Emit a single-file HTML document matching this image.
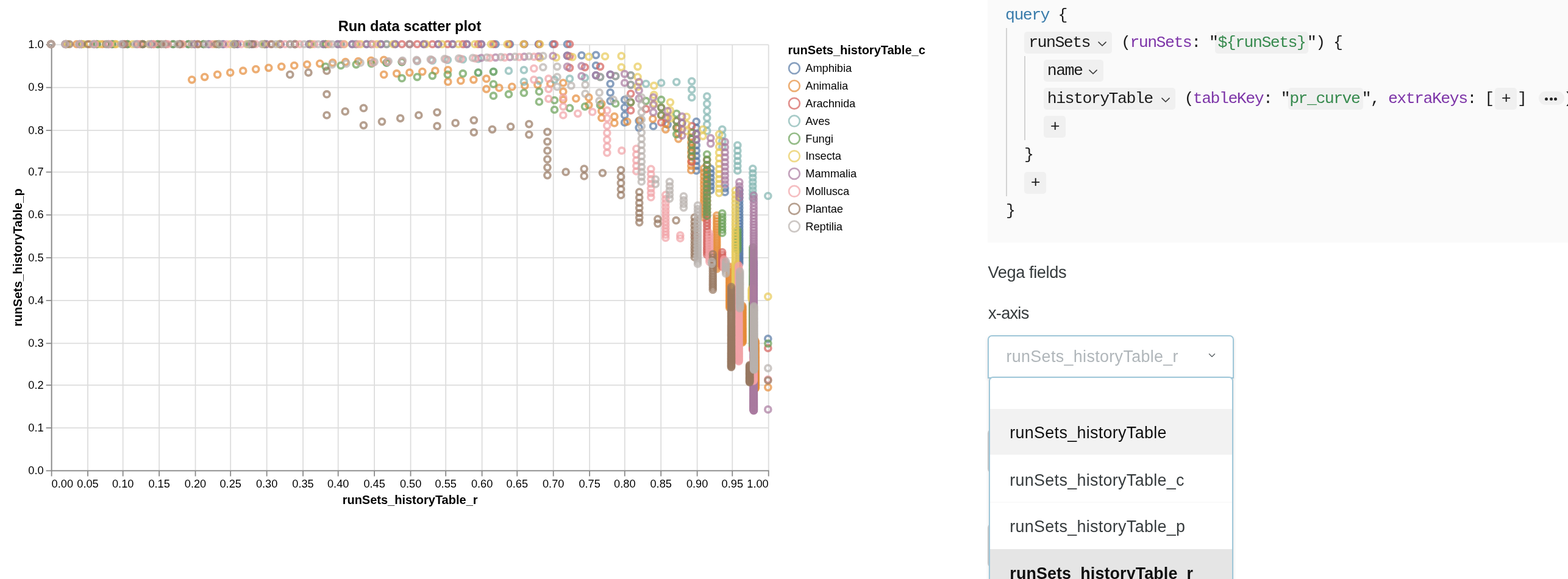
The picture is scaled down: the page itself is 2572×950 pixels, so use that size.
<!DOCTYPE html>
<html lang="en"><head><meta charset="utf-8"><title>Run data scatter plot</title>
<style>
html,body{margin:0;padding:0;background:#fff;width:2572px;height:950px;}
#page{width:2572px;height:950px;overflow:hidden;position:relative;background:#fff;font-family:"Liberation Sans",Arial,sans-serif;color:#363b3d;}
.chart{position:absolute;left:0;top:0;}
.code{position:absolute;left:1620px;top:0;width:952px;height:398px;background:#fafafa;overflow:hidden;
  font-family:"Liberation Mono","DejaVu Sans Mono",monospace;font-size:26.5px;letter-spacing:-1.5px;color:#1a1a1a;white-space:pre;}
.code span,.code i,.code em{position:absolute;height:36px;line-height:36px;font-style:normal;}
.code b{font-weight:normal;}
.code i{top:0;}
.code em{top:0;width:16px;}
.code .bx{position:absolute;background:#f0f0f0;border-radius:5px;z-index:1;}
.code>span{z-index:2;}
.code .kw{color:#3a7cab;}
.code .arg{color:#7d35a8;}
.code .str{color:#378a4e;}
.code .vl{position:absolute;width:2px;background:#d3d3d3;}
.code .chev{position:absolute;left:0;top:14.5px;}
.code .pill{position:absolute;width:42px;height:22px;border-radius:11px;background:#f0f0f0;}
.code .pill u{position:absolute;top:9.5px;width:5px;height:5px;border-radius:2.5px;background:#222;text-decoration:none;}
.code .pill u:nth-child(1){left:10px}.code .pill u:nth-child(2){left:17.7px}.code .pill u:nth-child(3){left:25.4px}
.lbl{position:absolute;font-size:27.2px;line-height:30px;white-space:nowrap;color:#363b3d;}
.under{position:absolute;left:1620px;width:60px;height:67.5px;border:2px solid #cfcfd0;border-radius:7px;background:#fff;}
.dd{position:absolute;left:1620px;top:549.7px;width:400px;height:67px;border:2px solid #9fc7d9;border-radius:7px 7px 0 0;background:#fff;box-shadow:0 2px 5px rgba(34,36,38,.15);}
.dd .txt{position:absolute;left:28.5px;top:15px;font-size:26.8px;letter-spacing:.38px;line-height:36px;color:#b0b6ba;white-space:nowrap;}
.dd .ddchev{position:absolute;left:360px;top:27.5px;}
.menu{position:absolute;left:1622px;top:617.7px;width:397px;height:340px;border:2px solid #9fc7d9;border-radius:7px 7px 0 0;background:#fff;box-shadow:0 2px 5px rgba(34,36,38,.15);overflow:hidden;}
.menu .it{position:absolute;left:0;width:398px;font-size:26.8px;letter-spacing:.36px;white-space:nowrap;color:#363b3d;}
.menu .it span{position:absolute;left:32.3px;line-height:36px;}
.menu .hov{background:#f2f2f2;color:#0e0e0e;}
.menu .sep{border-top:2px solid #fafafa;box-sizing:border-box;}
.menu .sel{background:#e5e5e5;color:#0e0e0e;font-weight:bold;letter-spacing:.16px;}

</style></head>
<body>
<div id="page">
<svg class="chart" width="1600" height="950" viewBox="0 0 1600 950">
<g font-family="Liberation Sans, Arial, Helvetica, sans-serif">
<path d="M84.60 73.40V772.40M144.04 73.40V772.40M201.67 73.40V772.40M261.11 73.40V772.40M320.54 73.40V772.40M378.18 73.40V772.40M437.61 73.40V772.40M497.05 73.40V772.40M554.68 73.40V772.40M614.12 73.40V772.40M673.55 73.40V772.40M731.19 73.40V772.40M790.62 73.40V772.40M848.26 73.40V772.40M907.69 73.40V772.40M967.13 73.40V772.40M1024.76 73.40V772.40M1084.20 73.40V772.40M1143.63 73.40V772.40M1201.27 73.40V772.40M1260.70 73.40V772.40M84.60 772.40H1260.70M84.60 702.14H1260.70M84.60 631.88H1260.70M84.60 563.42H1260.70M84.60 493.16H1260.70M84.60 422.90H1260.70M84.60 352.64H1260.70M84.60 282.38H1260.70M84.60 213.92H1260.70M84.60 143.66H1260.70M84.60 73.40H1260.70" stroke="#ddd" stroke-width="1.8" fill="none"/>
<path d="M84.60 772.40v9M144.04 772.40v9M201.67 772.40v9M261.11 772.40v9M320.54 772.40v9M378.18 772.40v9M437.61 772.40v9M497.05 772.40v9M554.68 772.40v9M614.12 772.40v9M673.55 772.40v9M731.19 772.40v9M790.62 772.40v9M848.26 772.40v9M907.69 772.40v9M967.13 772.40v9M1024.76 772.40v9M1084.20 772.40v9M1143.63 772.40v9M1201.27 772.40v9M1260.70 772.40v9M84.60 772.40h-9M84.60 702.14h-9M84.60 631.88h-9M84.60 563.42h-9M84.60 493.16h-9M84.60 422.90h-9M84.60 352.64h-9M84.60 282.38h-9M84.60 213.92h-9M84.60 143.66h-9M84.60 73.40h-9M84.60 72.50V773.30M83.70 772.40H1261.60" stroke="#888" stroke-width="1.8" fill="none"/>
<g font-size="18.2" fill="#000">
<text x="84.6" y="800" text-anchor="start">0.00</text>
<text x="144.0" y="800" text-anchor="middle">0.05</text>
<text x="201.7" y="800" text-anchor="middle">0.10</text>
<text x="261.1" y="800" text-anchor="middle">0.15</text>
<text x="320.5" y="800" text-anchor="middle">0.20</text>
<text x="378.2" y="800" text-anchor="middle">0.25</text>
<text x="437.6" y="800" text-anchor="middle">0.30</text>
<text x="497.0" y="800" text-anchor="middle">0.35</text>
<text x="554.7" y="800" text-anchor="middle">0.40</text>
<text x="614.1" y="800" text-anchor="middle">0.45</text>
<text x="673.6" y="800" text-anchor="middle">0.50</text>
<text x="731.2" y="800" text-anchor="middle">0.55</text>
<text x="790.6" y="800" text-anchor="middle">0.60</text>
<text x="848.3" y="800" text-anchor="middle">0.65</text>
<text x="907.7" y="800" text-anchor="middle">0.70</text>
<text x="967.1" y="800" text-anchor="middle">0.75</text>
<text x="1024.8" y="800" text-anchor="middle">0.80</text>
<text x="1084.2" y="800" text-anchor="middle">0.85</text>
<text x="1143.6" y="800" text-anchor="middle">0.90</text>
<text x="1201.3" y="800" text-anchor="middle">0.95</text>
<text x="1260.7" y="800" text-anchor="end">1.00</text>
<text x="71.6" y="778.1" text-anchor="end">0.0</text>
<text x="71.6" y="707.8" text-anchor="end">0.1</text>
<text x="71.6" y="637.6" text-anchor="end">0.2</text>
<text x="71.6" y="569.1" text-anchor="end">0.3</text>
<text x="71.6" y="498.9" text-anchor="end">0.4</text>
<text x="71.6" y="428.6" text-anchor="end">0.5</text>
<text x="71.6" y="358.3" text-anchor="end">0.6</text>
<text x="71.6" y="288.1" text-anchor="end">0.7</text>
<text x="71.6" y="219.6" text-anchor="end">0.8</text>
<text x="71.6" y="149.4" text-anchor="end">0.9</text>
<text x="71.6" y="79.1" text-anchor="end">1.0</text>
</g>
<text x="672" y="51.2" text-anchor="middle" font-size="23.6" font-weight="bold">Run data scatter plot</text>
<text x="672.6" y="826.5" text-anchor="middle" font-size="20" font-weight="bold">runSets_historyTable_r</text>
<text transform="translate(35.6 422.5) rotate(-90)" text-anchor="middle" font-size="20" font-weight="bold">runSets_historyTable_p</text>
<g fill="none" stroke-width="3.8" stroke-opacity="0.7">
<g stroke="#5677a4"><circle cx="83.7" cy="72.5" r="4.95"/><circle cx="107.2" cy="72.5" r="4.95"/><circle cx="130.7" cy="72.5" r="4.95"/><circle cx="154.3" cy="72.5" r="4.95"/><circle cx="177.8" cy="72.5" r="4.95"/><circle cx="201.3" cy="72.5" r="4.95"/><circle cx="224.8" cy="72.5" r="4.95"/><circle cx="248.4" cy="72.5" r="4.95"/><circle cx="271.9" cy="72.5" r="4.95"/><circle cx="295.4" cy="72.5" r="4.95"/><circle cx="318.9" cy="72.5" r="4.95"/><circle cx="342.4" cy="72.5" r="4.95"/><circle cx="366.0" cy="72.5" r="4.95"/><circle cx="389.5" cy="72.5" r="4.95"/><circle cx="413.0" cy="72.5" r="4.95"/><circle cx="436.5" cy="72.5" r="4.95"/><circle cx="460.1" cy="72.5" r="4.95"/><circle cx="483.6" cy="72.5" r="4.95"/><circle cx="507.1" cy="72.5" r="4.95"/><circle cx="530.6" cy="72.5" r="4.95"/><circle cx="554.1" cy="72.5" r="4.95"/><circle cx="577.7" cy="72.5" r="4.95"/><circle cx="601.2" cy="72.5" r="4.95"/><circle cx="624.7" cy="72.5" r="4.95"/><circle cx="648.2" cy="72.5" r="4.95"/><circle cx="671.8" cy="72.5" r="4.95"/><circle cx="695.3" cy="72.5" r="4.95"/><circle cx="718.8" cy="72.5" r="4.95"/><circle cx="742.3" cy="72.5" r="4.95"/><circle cx="765.8" cy="72.5" r="4.95"/><circle cx="789.4" cy="72.5" r="4.95"/><circle cx="812.9" cy="72.5" r="4.95"/><circle cx="836.4" cy="72.5" r="4.95"/><circle cx="859.9" cy="72.5" r="4.95"/><circle cx="883.4" cy="72.5" r="4.95"/><circle cx="907.0" cy="72.5" r="4.95"/><circle cx="930.5" cy="72.5" r="4.95"/><circle cx="930.5" cy="91.4" r="4.95"/><circle cx="954.0" cy="90.9" r="4.95"/><circle cx="977.5" cy="90.4" r="4.95"/><circle cx="977.5" cy="107.5" r="4.95"/><circle cx="977.5" cy="123.6" r="4.95"/><circle cx="1001.1" cy="122.4" r="4.95"/><circle cx="1001.1" cy="137.5" r="4.95"/><circle cx="1001.1" cy="151.9" r="4.95"/><circle cx="1001.1" cy="165.7" r="4.95"/><circle cx="1024.6" cy="163.7" r="4.95"/><circle cx="1024.6" cy="176.6" r="4.95"/><circle cx="1024.6" cy="189.0" r="4.95"/><circle cx="1024.6" cy="200.9" r="4.95"/><circle cx="1048.1" cy="198.3" r="4.95"/><circle cx="1048.1" cy="209.6" r="4.95"/><circle cx="1071.6" cy="206.9" r="4.95"/><circle cx="1095.1" cy="204.4" r="4.95"/><circle cx="1118.7" cy="201.9" r="4.95"/><circle cx="1142.2" cy="199.6" r="4.95"/><circle cx="1142.2" cy="209.8" r="4.95"/><circle cx="1142.2" cy="219.7" r="4.95"/><circle cx="1142.2" cy="229.2" r="4.95"/><circle cx="1142.2" cy="238.4" r="4.95"/><circle cx="1142.2" cy="247.2" r="4.95"/><circle cx="1142.2" cy="255.8" r="4.95"/><circle cx="1142.2" cy="264.2" r="4.95"/><circle cx="1142.2" cy="272.2" r="4.95"/><circle cx="1142.2" cy="280.0" r="4.95"/><circle cx="1165.7" cy="276.8" r="4.95"/><circle cx="1165.7" cy="284.3" r="4.95"/><circle cx="1165.7" cy="291.6" r="4.95"/><circle cx="1165.7" cy="298.6" r="4.95"/><circle cx="1165.7" cy="305.5" r="4.95"/><circle cx="1165.7" cy="312.2" r="4.95"/><circle cx="1189.2" cy="308.8" r="4.95"/><circle cx="1189.2" cy="315.2" r="4.95"/><circle cx="1212.8" cy="311.9" r="4.95"/><circle cx="1212.8" cy="318.1" r="4.95"/><circle cx="1212.8" cy="324.1" r="4.95"/><circle cx="1212.8" cy="330.0" r="4.95"/><circle cx="1212.8" cy="335.8" r="4.95"/><circle cx="1212.8" cy="341.3" r="4.95"/><circle cx="1212.8" cy="346.8" r="4.95"/><circle cx="1212.8" cy="352.1" r="4.95"/><circle cx="1212.8" cy="357.3" r="4.95"/><circle cx="1212.8" cy="362.3" r="4.95"/><circle cx="1212.8" cy="367.3" r="4.95"/><circle cx="1212.8" cy="372.1" r="4.95"/><circle cx="1212.8" cy="376.8" r="4.95"/><circle cx="1212.8" cy="381.4" r="4.95"/><circle cx="1212.8" cy="385.8" r="4.95"/><circle cx="1212.8" cy="390.2" r="4.95"/><circle cx="1212.8" cy="394.5" r="4.95"/><circle cx="1212.8" cy="398.7" r="4.95"/><circle cx="1212.8" cy="402.8" r="4.95"/><circle cx="1212.8" cy="406.8" r="4.95"/><circle cx="1212.8" cy="410.7" r="4.95"/><circle cx="1212.8" cy="414.6" r="4.95"/><circle cx="1212.8" cy="418.3" r="4.95"/><circle cx="1212.8" cy="422.0" r="4.95"/><circle cx="1212.8" cy="425.6" r="4.95"/><circle cx="1212.8" cy="429.1" r="4.95"/><circle cx="1212.8" cy="432.6" r="4.95"/><circle cx="1236.3" cy="429.0" r="4.95"/><circle cx="1236.3" cy="432.4" r="4.95"/><circle cx="1236.3" cy="435.7" r="4.95"/><circle cx="1236.3" cy="439.0" r="4.95"/><circle cx="1236.3" cy="442.2" r="4.95"/><circle cx="1236.3" cy="445.3" r="4.95"/><circle cx="1236.3" cy="448.4" r="4.95"/><circle cx="1236.3" cy="451.4" r="4.95"/><circle cx="1236.3" cy="454.4" r="4.95"/><circle cx="1236.3" cy="457.3" r="4.95"/><circle cx="1236.3" cy="460.1" r="4.95"/><circle cx="1236.3" cy="462.9" r="4.95"/><circle cx="1236.3" cy="465.7" r="4.95"/><circle cx="1236.3" cy="468.4" r="4.95"/><circle cx="1236.3" cy="471.1" r="4.95"/><circle cx="1236.3" cy="473.7" r="4.95"/><circle cx="1236.3" cy="476.2" r="4.95"/><circle cx="1236.3" cy="478.8" r="4.95"/><circle cx="1236.3" cy="481.2" r="4.95"/><circle cx="1236.3" cy="483.7" r="4.95"/><circle cx="1236.3" cy="486.1" r="4.95"/><circle cx="1236.3" cy="488.4" r="4.95"/><circle cx="1236.3" cy="490.8" r="4.95"/><circle cx="1236.3" cy="493.0" r="4.95"/><circle cx="1236.3" cy="495.3" r="4.95"/><circle cx="1236.3" cy="497.5" r="4.95"/><circle cx="1236.3" cy="499.7" r="4.95"/><circle cx="1236.3" cy="501.8" r="4.95"/><circle cx="1236.3" cy="503.9" r="4.95"/><circle cx="1236.3" cy="506.0" r="4.95"/><circle cx="1236.3" cy="508.0" r="4.95"/><circle cx="1236.3" cy="510.0" r="4.95"/><circle cx="1236.3" cy="512.0" r="4.95"/><circle cx="1236.3" cy="514.0" r="4.95"/><circle cx="1236.3" cy="515.9" r="4.95"/><circle cx="1236.3" cy="517.8" r="4.95"/><circle cx="1236.3" cy="519.7" r="4.95"/><circle cx="1236.3" cy="521.5" r="4.95"/><circle cx="1236.3" cy="523.3" r="4.95"/><circle cx="1236.3" cy="525.1" r="4.95"/><circle cx="1236.3" cy="526.9" r="4.95"/><circle cx="1236.3" cy="528.6" r="4.95"/><circle cx="1236.3" cy="530.3" r="4.95"/><circle cx="1236.3" cy="532.0" r="4.95"/><circle cx="1236.3" cy="533.6" r="4.95"/><circle cx="1236.3" cy="535.3" r="4.95"/><circle cx="1236.3" cy="536.9" r="4.95"/><circle cx="1236.3" cy="538.5" r="4.95"/><circle cx="1236.3" cy="540.1" r="4.95"/><circle cx="1236.3" cy="541.6" r="4.95"/><circle cx="1236.3" cy="543.2" r="4.95"/><circle cx="1236.3" cy="544.7" r="4.95"/><circle cx="1236.3" cy="546.2" r="4.95"/><circle cx="1236.3" cy="547.6" r="4.95"/><circle cx="1236.3" cy="549.1" r="4.95"/><circle cx="1236.3" cy="550.5" r="4.95"/><circle cx="1236.3" cy="551.9" r="4.95"/><circle cx="1236.3" cy="553.3" r="4.95"/><circle cx="1236.3" cy="554.7" r="4.95"/><circle cx="1236.3" cy="556.1" r="4.95"/><circle cx="1236.3" cy="557.4" r="4.95"/><circle cx="1236.3" cy="558.8" r="4.95"/><circle cx="1259.8" cy="555.8" r="4.95"/></g>
<g stroke="#e68b39"><circle cx="83.7" cy="72.5" r="4.95"/><circle cx="125.7" cy="72.5" r="4.95"/><circle cx="146.7" cy="72.5" r="4.95"/><circle cx="167.7" cy="72.5" r="4.95"/><circle cx="188.7" cy="72.5" r="4.95"/><circle cx="209.7" cy="72.5" r="4.95"/><circle cx="230.7" cy="72.5" r="4.95"/><circle cx="251.7" cy="72.5" r="4.95"/><circle cx="272.7" cy="72.5" r="4.95"/><circle cx="293.7" cy="72.5" r="4.95"/><circle cx="314.7" cy="72.5" r="4.95"/><circle cx="314.7" cy="130.8" r="4.95"/><circle cx="335.7" cy="126.3" r="4.95"/><circle cx="356.7" cy="122.4" r="4.95"/><circle cx="377.7" cy="119.1" r="4.95"/><circle cx="398.7" cy="116.2" r="4.95"/><circle cx="419.7" cy="113.6" r="4.95"/><circle cx="440.7" cy="111.3" r="4.95"/><circle cx="461.7" cy="109.3" r="4.95"/><circle cx="482.7" cy="107.5" r="4.95"/><circle cx="503.7" cy="105.8" r="4.95"/><circle cx="524.7" cy="104.3" r="4.95"/><circle cx="545.7" cy="102.9" r="4.95"/><circle cx="566.7" cy="101.6" r="4.95"/><circle cx="587.7" cy="100.5" r="4.95"/><circle cx="608.7" cy="99.4" r="4.95"/><circle cx="629.7" cy="98.4" r="4.95"/><circle cx="629.7" cy="122.4" r="4.95"/><circle cx="650.7" cy="120.7" r="4.95"/><circle cx="671.8" cy="119.1" r="4.95"/><circle cx="692.8" cy="117.6" r="4.95"/><circle cx="713.8" cy="116.2" r="4.95"/><circle cx="734.8" cy="114.9" r="4.95"/><circle cx="734.8" cy="134.2" r="4.95"/><circle cx="755.8" cy="132.4" r="4.95"/><circle cx="776.8" cy="130.8" r="4.95"/><circle cx="797.8" cy="129.2" r="4.95"/><circle cx="797.8" cy="146.1" r="4.95"/><circle cx="818.8" cy="144.2" r="4.95"/><circle cx="839.8" cy="142.4" r="4.95"/><circle cx="860.8" cy="140.7" r="4.95"/><circle cx="881.8" cy="139.1" r="4.95"/><circle cx="902.8" cy="137.5" r="4.95"/><circle cx="923.8" cy="136.0" r="4.95"/><circle cx="923.8" cy="150.2" r="4.95"/><circle cx="923.8" cy="163.7" r="4.95"/><circle cx="944.8" cy="161.7" r="4.95"/><circle cx="965.8" cy="159.9" r="4.95"/><circle cx="965.8" cy="172.4" r="4.95"/><circle cx="986.8" cy="170.4" r="4.95"/><circle cx="986.8" cy="182.1" r="4.95"/><circle cx="986.8" cy="193.5" r="4.95"/><circle cx="1007.8" cy="191.2" r="4.95"/><circle cx="1007.8" cy="201.9" r="4.95"/><circle cx="1028.8" cy="199.6" r="4.95"/><circle cx="1049.8" cy="197.3" r="4.95"/><circle cx="1070.8" cy="195.1" r="4.95"/><circle cx="1091.8" cy="193.0" r="4.95"/><circle cx="1091.8" cy="202.8" r="4.95"/><circle cx="1091.8" cy="212.3" r="4.95"/><circle cx="1112.8" cy="210.0" r="4.95"/><circle cx="1112.8" cy="219.1" r="4.95"/><circle cx="1112.8" cy="227.8" r="4.95"/><circle cx="1133.8" cy="225.4" r="4.95"/><circle cx="1133.8" cy="233.8" r="4.95"/><circle cx="1133.8" cy="242.0" r="4.95"/><circle cx="1133.8" cy="249.9" r="4.95"/><circle cx="1133.8" cy="257.5" r="4.95"/><circle cx="1133.8" cy="265.0" r="4.95"/><circle cx="1133.8" cy="272.2" r="4.95"/><circle cx="1133.8" cy="279.2" r="4.95"/><circle cx="1154.8" cy="276.4" r="4.95"/><circle cx="1154.8" cy="283.2" r="4.95"/><circle cx="1154.8" cy="289.8" r="4.95"/><circle cx="1154.8" cy="296.2" r="4.95"/><circle cx="1154.8" cy="302.4" r="4.95"/><circle cx="1154.8" cy="308.5" r="4.95"/><circle cx="1154.8" cy="314.5" r="4.95"/><circle cx="1154.8" cy="320.2" r="4.95"/><circle cx="1154.8" cy="325.9" r="4.95"/><circle cx="1154.8" cy="331.4" r="4.95"/><circle cx="1154.8" cy="336.8" r="4.95"/><circle cx="1154.8" cy="342.0" r="4.95"/><circle cx="1154.8" cy="347.1" r="4.95"/><circle cx="1154.8" cy="352.1" r="4.95"/><circle cx="1154.8" cy="357.0" r="4.95"/><circle cx="1175.8" cy="353.7" r="4.95"/><circle cx="1175.8" cy="358.5" r="4.95"/><circle cx="1175.8" cy="363.1" r="4.95"/><circle cx="1175.8" cy="367.6" r="4.95"/><circle cx="1175.8" cy="372.1" r="4.95"/><circle cx="1175.8" cy="376.4" r="4.95"/><circle cx="1175.8" cy="380.7" r="4.95"/><circle cx="1175.8" cy="384.8" r="4.95"/><circle cx="1175.8" cy="388.9" r="4.95"/><circle cx="1175.8" cy="392.9" r="4.95"/><circle cx="1175.8" cy="396.8" r="4.95"/><circle cx="1175.8" cy="400.6" r="4.95"/><circle cx="1175.8" cy="404.3" r="4.95"/><circle cx="1175.8" cy="408.0" r="4.95"/><circle cx="1175.8" cy="411.6" r="4.95"/><circle cx="1175.8" cy="415.1" r="4.95"/><circle cx="1175.8" cy="418.6" r="4.95"/><circle cx="1175.8" cy="422.0" r="4.95"/><circle cx="1175.8" cy="425.3" r="4.95"/><circle cx="1175.8" cy="428.6" r="4.95"/><circle cx="1175.8" cy="431.8" r="4.95"/><circle cx="1175.8" cy="434.9" r="4.95"/><circle cx="1175.8" cy="438.0" r="4.95"/><circle cx="1175.8" cy="441.1" r="4.95"/><circle cx="1196.8" cy="437.7" r="4.95"/><circle cx="1196.8" cy="440.7" r="4.95"/><circle cx="1196.8" cy="443.7" r="4.95"/><circle cx="1196.8" cy="446.5" r="4.95"/><circle cx="1196.8" cy="449.4" r="4.95"/><circle cx="1196.8" cy="452.1" r="4.95"/><circle cx="1196.8" cy="454.9" r="4.95"/><circle cx="1196.8" cy="457.5" r="4.95"/><circle cx="1196.8" cy="460.2" r="4.95"/><circle cx="1196.8" cy="462.8" r="4.95"/><circle cx="1196.8" cy="465.3" r="4.95"/><circle cx="1196.8" cy="467.8" r="4.95"/><circle cx="1196.8" cy="470.3" r="4.95"/><circle cx="1196.8" cy="472.7" r="4.95"/><circle cx="1196.8" cy="475.1" r="4.95"/><circle cx="1196.8" cy="477.5" r="4.95"/><circle cx="1196.8" cy="479.8" r="4.95"/><circle cx="1196.8" cy="482.1" r="4.95"/><circle cx="1196.8" cy="484.3" r="4.95"/><circle cx="1196.8" cy="486.5" r="4.95"/><circle cx="1196.8" cy="488.7" r="4.95"/><circle cx="1196.8" cy="490.8" r="4.95"/><circle cx="1196.8" cy="493.0" r="4.95"/><circle cx="1196.8" cy="495.0" r="4.95"/><circle cx="1196.8" cy="497.1" r="4.95"/><circle cx="1196.8" cy="499.1" r="4.95"/><circle cx="1196.8" cy="501.1" r="4.95"/><circle cx="1196.8" cy="503.0" r="4.95"/><circle cx="1196.8" cy="505.0" r="4.95"/><circle cx="1217.8" cy="501.9" r="4.95"/><circle cx="1217.8" cy="503.8" r="4.95"/><circle cx="1217.8" cy="505.7" r="4.95"/><circle cx="1217.8" cy="507.5" r="4.95"/><circle cx="1217.8" cy="509.4" r="4.95"/><circle cx="1217.8" cy="511.2" r="4.95"/><circle cx="1217.8" cy="513.0" r="4.95"/><circle cx="1217.8" cy="514.7" r="4.95"/><circle cx="1217.8" cy="516.5" r="4.95"/><circle cx="1217.8" cy="518.2" r="4.95"/><circle cx="1217.8" cy="519.9" r="4.95"/><circle cx="1217.8" cy="521.5" r="4.95"/><circle cx="1217.8" cy="523.2" r="4.95"/><circle cx="1217.8" cy="524.8" r="4.95"/><circle cx="1217.8" cy="526.4" r="4.95"/><circle cx="1217.8" cy="528.0" r="4.95"/><circle cx="1217.8" cy="529.5" r="4.95"/><circle cx="1217.8" cy="531.1" r="4.95"/><circle cx="1217.8" cy="532.6" r="4.95"/><circle cx="1217.8" cy="534.1" r="4.95"/><circle cx="1217.8" cy="535.6" r="4.95"/><circle cx="1217.8" cy="537.1" r="4.95"/><circle cx="1217.8" cy="538.5" r="4.95"/><circle cx="1217.8" cy="539.9" r="4.95"/><circle cx="1217.8" cy="541.3" r="4.95"/><circle cx="1217.8" cy="542.7" r="4.95"/><circle cx="1217.8" cy="544.1" r="4.95"/><circle cx="1217.8" cy="545.5" r="4.95"/><circle cx="1217.8" cy="546.8" r="4.95"/><circle cx="1217.8" cy="548.2" r="4.95"/><circle cx="1217.8" cy="549.5" r="4.95"/><circle cx="1217.8" cy="550.8" r="4.95"/><circle cx="1217.8" cy="552.0" r="4.95"/><circle cx="1217.8" cy="553.3" r="4.95"/><circle cx="1217.8" cy="554.6" r="4.95"/><circle cx="1217.8" cy="555.8" r="4.95"/><circle cx="1217.8" cy="557.0" r="4.95"/><circle cx="1217.8" cy="558.2" r="4.95"/><circle cx="1217.8" cy="559.4" r="4.95"/><circle cx="1217.8" cy="560.6" r="4.95"/><circle cx="1217.8" cy="561.8" r="4.95"/><circle cx="1238.8" cy="559.1" r="4.95"/><circle cx="1238.8" cy="560.3" r="4.95"/><circle cx="1238.8" cy="561.4" r="4.95"/><circle cx="1238.8" cy="562.6" r="4.95"/><circle cx="1238.8" cy="563.7" r="4.95"/><circle cx="1238.8" cy="564.8" r="4.95"/><circle cx="1238.8" cy="565.9" r="4.95"/><circle cx="1238.8" cy="567.0" r="4.95"/><circle cx="1238.8" cy="568.1" r="4.95"/><circle cx="1238.8" cy="569.2" r="4.95"/><circle cx="1238.8" cy="570.2" r="4.95"/><circle cx="1238.8" cy="571.3" r="4.95"/><circle cx="1238.8" cy="572.3" r="4.95"/><circle cx="1238.8" cy="573.3" r="4.95"/><circle cx="1238.8" cy="574.3" r="4.95"/><circle cx="1238.8" cy="575.4" r="4.95"/><circle cx="1238.8" cy="576.3" r="4.95"/><circle cx="1238.8" cy="577.3" r="4.95"/><circle cx="1238.8" cy="578.3" r="4.95"/><circle cx="1238.8" cy="579.3" r="4.95"/><circle cx="1238.8" cy="580.2" r="4.95"/><circle cx="1238.8" cy="581.2" r="4.95"/><circle cx="1238.8" cy="582.1" r="4.95"/><circle cx="1238.8" cy="583.0" r="4.95"/><circle cx="1238.8" cy="584.0" r="4.95"/><circle cx="1238.8" cy="584.9" r="4.95"/><circle cx="1238.8" cy="585.8" r="4.95"/><circle cx="1238.8" cy="586.7" r="4.95"/><circle cx="1238.8" cy="587.6" r="4.95"/><circle cx="1238.8" cy="588.4" r="4.95"/><circle cx="1238.8" cy="589.3" r="4.95"/><circle cx="1238.8" cy="590.2" r="4.95"/><circle cx="1238.8" cy="591.0" r="4.95"/><circle cx="1238.8" cy="591.9" r="4.95"/><circle cx="1238.8" cy="592.7" r="4.95"/><circle cx="1238.8" cy="593.5" r="4.95"/><circle cx="1238.8" cy="594.3" r="4.95"/><circle cx="1238.8" cy="595.1" r="4.95"/><circle cx="1238.8" cy="596.0" r="4.95"/><circle cx="1238.8" cy="596.8" r="4.95"/><circle cx="1238.8" cy="597.5" r="4.95"/><circle cx="1238.8" cy="598.3" r="4.95"/><circle cx="1238.8" cy="599.1" r="4.95"/><circle cx="1238.8" cy="599.9" r="4.95"/><circle cx="1238.8" cy="600.6" r="4.95"/><circle cx="1238.8" cy="601.4" r="4.95"/><circle cx="1238.8" cy="602.1" r="4.95"/><circle cx="1238.8" cy="602.9" r="4.95"/><circle cx="1238.8" cy="603.6" r="4.95"/><circle cx="1238.8" cy="604.3" r="4.95"/><circle cx="1238.8" cy="605.1" r="4.95"/><circle cx="1238.8" cy="605.8" r="4.95"/><circle cx="1238.8" cy="606.5" r="4.95"/><circle cx="1238.8" cy="607.2" r="4.95"/><circle cx="1238.8" cy="607.9" r="4.95"/><circle cx="1238.8" cy="608.6" r="4.95"/><circle cx="1238.8" cy="609.3" r="4.95"/><circle cx="1238.8" cy="610.0" r="4.95"/><circle cx="1238.8" cy="610.6" r="4.95"/><circle cx="1238.8" cy="611.3" r="4.95"/><circle cx="1238.8" cy="612.0" r="4.95"/><circle cx="1238.8" cy="612.6" r="4.95"/><circle cx="1238.8" cy="613.3" r="4.95"/><circle cx="1238.8" cy="613.9" r="4.95"/><circle cx="1238.8" cy="614.6" r="4.95"/><circle cx="1238.8" cy="615.2" r="4.95"/><circle cx="1238.8" cy="615.9" r="4.95"/><circle cx="1238.8" cy="616.5" r="4.95"/><circle cx="1238.8" cy="617.1" r="4.95"/><circle cx="1238.8" cy="617.7" r="4.95"/><circle cx="1238.8" cy="618.3" r="4.95"/><circle cx="1238.8" cy="618.9" r="4.95"/><circle cx="1238.8" cy="619.5" r="4.95"/><circle cx="1238.8" cy="620.1" r="4.95"/><circle cx="1238.8" cy="620.7" r="4.95"/><circle cx="1238.8" cy="621.3" r="4.95"/><circle cx="1238.8" cy="621.9" r="4.95"/><circle cx="1238.8" cy="622.5" r="4.95"/><circle cx="1238.8" cy="623.1" r="4.95"/><circle cx="1238.8" cy="623.6" r="4.95"/><circle cx="1238.8" cy="624.2" r="4.95"/><circle cx="1238.8" cy="624.8" r="4.95"/><circle cx="1238.8" cy="625.3" r="4.95"/><circle cx="1238.8" cy="625.9" r="4.95"/><circle cx="1238.8" cy="626.4" r="4.95"/><circle cx="1238.8" cy="627.0" r="4.95"/><circle cx="1238.8" cy="627.5" r="4.95"/><circle cx="1238.8" cy="628.0" r="4.95"/><circle cx="1238.8" cy="628.6" r="4.95"/><circle cx="1238.8" cy="629.1" r="4.95"/><circle cx="1238.8" cy="629.6" r="4.95"/><circle cx="1238.8" cy="630.2" r="4.95"/><circle cx="1238.8" cy="630.7" r="4.95"/><circle cx="1238.8" cy="631.2" r="4.95"/><circle cx="1238.8" cy="631.7" r="4.95"/><circle cx="1238.8" cy="632.2" r="4.95"/><circle cx="1238.8" cy="632.7" r="4.95"/><circle cx="1238.8" cy="633.2" r="4.95"/><circle cx="1238.8" cy="633.7" r="4.95"/><circle cx="1238.8" cy="634.2" r="4.95"/><circle cx="1238.8" cy="634.7" r="4.95"/><circle cx="1238.8" cy="635.2" r="4.95"/><circle cx="1238.8" cy="635.7" r="4.95"/><circle cx="1238.8" cy="636.1" r="4.95"/><circle cx="1238.8" cy="636.6" r="4.95"/><circle cx="1238.8" cy="637.1" r="4.95"/><circle cx="1238.8" cy="637.5" r="4.95"/><circle cx="1259.8" cy="635.6" r="4.95"/></g>
<g stroke="#d4605b"><circle cx="83.7" cy="72.5" r="4.95"/><circle cx="108.7" cy="72.5" r="4.95"/><circle cx="133.7" cy="72.5" r="4.95"/><circle cx="158.8" cy="72.5" r="4.95"/><circle cx="183.8" cy="72.5" r="4.95"/><circle cx="208.8" cy="72.5" r="4.95"/><circle cx="233.8" cy="72.5" r="4.95"/><circle cx="258.9" cy="72.5" r="4.95"/><circle cx="283.9" cy="72.5" r="4.95"/><circle cx="308.9" cy="72.5" r="4.95"/><circle cx="333.9" cy="72.5" r="4.95"/><circle cx="359.0" cy="72.5" r="4.95"/><circle cx="384.0" cy="72.5" r="4.95"/><circle cx="409.0" cy="72.5" r="4.95"/><circle cx="434.0" cy="72.5" r="4.95"/><circle cx="459.1" cy="72.5" r="4.95"/><circle cx="484.1" cy="72.5" r="4.95"/><circle cx="509.1" cy="72.5" r="4.95"/><circle cx="534.1" cy="72.5" r="4.95"/><circle cx="559.1" cy="72.5" r="4.95"/><circle cx="584.2" cy="72.5" r="4.95"/><circle cx="609.2" cy="72.5" r="4.95"/><circle cx="634.2" cy="72.5" r="4.95"/><circle cx="659.2" cy="72.5" r="4.95"/><circle cx="684.3" cy="72.5" r="4.95"/><circle cx="709.3" cy="72.5" r="4.95"/><circle cx="734.3" cy="72.5" r="4.95"/><circle cx="759.3" cy="72.5" r="4.95"/><circle cx="784.4" cy="72.5" r="4.95"/><circle cx="809.4" cy="72.5" r="4.95"/><circle cx="834.4" cy="72.5" r="4.95"/><circle cx="859.4" cy="72.5" r="4.95"/><circle cx="884.4" cy="72.5" r="4.95"/><circle cx="909.5" cy="72.5" r="4.95"/><circle cx="934.5" cy="72.5" r="4.95"/><circle cx="934.5" cy="92.5" r="4.95"/><circle cx="934.5" cy="111.3" r="4.95"/><circle cx="959.5" cy="110.3" r="4.95"/><circle cx="984.5" cy="109.3" r="4.95"/><circle cx="984.5" cy="126.3" r="4.95"/><circle cx="1009.6" cy="124.9" r="4.95"/><circle cx="1034.6" cy="123.6" r="4.95"/><circle cx="1034.6" cy="139.1" r="4.95"/><circle cx="1034.6" cy="153.8" r="4.95"/><circle cx="1034.6" cy="167.8" r="4.95"/><circle cx="1034.6" cy="181.2" r="4.95"/><circle cx="1059.6" cy="178.9" r="4.95"/><circle cx="1084.6" cy="176.6" r="4.95"/><circle cx="1084.6" cy="189.0" r="4.95"/><circle cx="1084.6" cy="200.9" r="4.95"/><circle cx="1109.7" cy="198.3" r="4.95"/><circle cx="1109.7" cy="209.6" r="4.95"/><circle cx="1134.7" cy="206.9" r="4.95"/><circle cx="1134.7" cy="217.6" r="4.95"/><circle cx="1134.7" cy="227.8" r="4.95"/><circle cx="1134.7" cy="237.7" r="4.95"/><circle cx="1134.7" cy="247.2" r="4.95"/><circle cx="1134.7" cy="256.4" r="4.95"/><circle cx="1134.7" cy="265.3" r="4.95"/><circle cx="1159.7" cy="262.1" r="4.95"/><circle cx="1159.7" cy="270.6" r="4.95"/><circle cx="1159.7" cy="278.8" r="4.95"/><circle cx="1159.7" cy="286.7" r="4.95"/><circle cx="1159.7" cy="294.4" r="4.95"/><circle cx="1159.7" cy="301.9" r="4.95"/><circle cx="1159.7" cy="309.1" r="4.95"/><circle cx="1159.7" cy="316.1" r="4.95"/><circle cx="1159.7" cy="322.9" r="4.95"/><circle cx="1159.7" cy="329.5" r="4.95"/><circle cx="1159.7" cy="335.9" r="4.95"/><circle cx="1159.7" cy="342.1" r="4.95"/><circle cx="1159.7" cy="348.2" r="4.95"/><circle cx="1159.7" cy="354.0" r="4.95"/><circle cx="1159.7" cy="359.8" r="4.95"/><circle cx="1159.7" cy="365.3" r="4.95"/><circle cx="1159.7" cy="370.7" r="4.95"/><circle cx="1159.7" cy="376.0" r="4.95"/><circle cx="1159.7" cy="381.1" r="4.95"/><circle cx="1159.7" cy="386.2" r="4.95"/><circle cx="1159.7" cy="391.0" r="4.95"/><circle cx="1159.7" cy="395.8" r="4.95"/><circle cx="1159.7" cy="400.4" r="4.95"/><circle cx="1159.7" cy="405.0" r="4.95"/><circle cx="1159.7" cy="409.4" r="4.95"/><circle cx="1159.7" cy="413.7" r="4.95"/><circle cx="1159.7" cy="417.9" r="4.95"/><circle cx="1184.7" cy="413.9" r="4.95"/><circle cx="1184.7" cy="418.0" r="4.95"/><circle cx="1184.7" cy="422.0" r="4.95"/><circle cx="1184.7" cy="425.9" r="4.95"/><circle cx="1184.7" cy="429.8" r="4.95"/><circle cx="1184.7" cy="433.5" r="4.95"/><circle cx="1184.7" cy="437.2" r="4.95"/><circle cx="1209.8" cy="433.3" r="4.95"/><circle cx="1209.8" cy="436.9" r="4.95"/><circle cx="1209.8" cy="440.4" r="4.95"/><circle cx="1209.8" cy="443.8" r="4.95"/><circle cx="1209.8" cy="447.2" r="4.95"/><circle cx="1209.8" cy="450.5" r="4.95"/><circle cx="1209.8" cy="453.8" r="4.95"/><circle cx="1209.8" cy="456.9" r="4.95"/><circle cx="1209.8" cy="460.1" r="4.95"/><circle cx="1209.8" cy="463.1" r="4.95"/><circle cx="1209.8" cy="466.1" r="4.95"/><circle cx="1209.8" cy="469.0" r="4.95"/><circle cx="1209.8" cy="471.9" r="4.95"/><circle cx="1234.8" cy="468.2" r="4.95"/><circle cx="1234.8" cy="471.0" r="4.95"/><circle cx="1234.8" cy="473.8" r="4.95"/><circle cx="1234.8" cy="476.5" r="4.95"/><circle cx="1234.8" cy="479.2" r="4.95"/><circle cx="1234.8" cy="481.8" r="4.95"/><circle cx="1234.8" cy="484.4" r="4.95"/><circle cx="1234.8" cy="487.0" r="4.95"/><circle cx="1234.8" cy="489.4" r="4.95"/><circle cx="1234.8" cy="491.9" r="4.95"/><circle cx="1234.8" cy="494.3" r="4.95"/><circle cx="1234.8" cy="496.7" r="4.95"/><circle cx="1234.8" cy="499.0" r="4.95"/><circle cx="1234.8" cy="501.3" r="4.95"/><circle cx="1234.8" cy="503.5" r="4.95"/><circle cx="1234.8" cy="505.8" r="4.95"/><circle cx="1234.8" cy="507.9" r="4.95"/><circle cx="1234.8" cy="510.1" r="4.95"/><circle cx="1234.8" cy="512.2" r="4.95"/><circle cx="1234.8" cy="514.3" r="4.95"/><circle cx="1234.8" cy="516.3" r="4.95"/><circle cx="1234.8" cy="518.3" r="4.95"/><circle cx="1234.8" cy="520.3" r="4.95"/><circle cx="1234.8" cy="522.2" r="4.95"/><circle cx="1234.8" cy="524.2" r="4.95"/><circle cx="1234.8" cy="526.0" r="4.95"/><circle cx="1234.8" cy="527.9" r="4.95"/><circle cx="1234.8" cy="529.7" r="4.95"/><circle cx="1234.8" cy="531.5" r="4.95"/><circle cx="1234.8" cy="533.3" r="4.95"/><circle cx="1234.8" cy="535.1" r="4.95"/><circle cx="1234.8" cy="536.8" r="4.95"/><circle cx="1234.8" cy="538.5" r="4.95"/><circle cx="1234.8" cy="540.2" r="4.95"/><circle cx="1234.8" cy="541.8" r="4.95"/><circle cx="1234.8" cy="543.5" r="4.95"/><circle cx="1234.8" cy="545.1" r="4.95"/><circle cx="1234.8" cy="546.6" r="4.95"/><circle cx="1234.8" cy="548.2" r="4.95"/><circle cx="1234.8" cy="549.7" r="4.95"/><circle cx="1234.8" cy="551.3" r="4.95"/><circle cx="1234.8" cy="552.8" r="4.95"/><circle cx="1234.8" cy="554.2" r="4.95"/><circle cx="1234.8" cy="555.7" r="4.95"/><circle cx="1234.8" cy="557.1" r="4.95"/><circle cx="1234.8" cy="558.6" r="4.95"/><circle cx="1234.8" cy="560.0" r="4.95"/><circle cx="1234.8" cy="561.3" r="4.95"/><circle cx="1234.8" cy="562.7" r="4.95"/><circle cx="1234.8" cy="564.1" r="4.95"/><circle cx="1234.8" cy="565.4" r="4.95"/><circle cx="1234.8" cy="566.7" r="4.95"/><circle cx="1234.8" cy="568.0" r="4.95"/><circle cx="1234.8" cy="569.3" r="4.95"/><circle cx="1234.8" cy="570.5" r="4.95"/><circle cx="1234.8" cy="571.8" r="4.95"/><circle cx="1234.8" cy="573.0" r="4.95"/><circle cx="1234.8" cy="574.2" r="4.95"/><circle cx="1259.8" cy="571.2" r="4.95"/></g>
<g stroke="#82b5b1"><circle cx="83.7" cy="72.5" r="4.95"/><circle cx="108.7" cy="72.5" r="4.95"/><circle cx="133.7" cy="72.5" r="4.95"/><circle cx="158.8" cy="72.5" r="4.95"/><circle cx="183.8" cy="72.5" r="4.95"/><circle cx="208.8" cy="72.5" r="4.95"/><circle cx="233.8" cy="72.5" r="4.95"/><circle cx="258.9" cy="72.5" r="4.95"/><circle cx="283.9" cy="72.5" r="4.95"/><circle cx="308.9" cy="72.5" r="4.95"/><circle cx="333.9" cy="72.5" r="4.95"/><circle cx="359.0" cy="72.5" r="4.95"/><circle cx="384.0" cy="72.5" r="4.95"/><circle cx="409.0" cy="72.5" r="4.95"/><circle cx="434.0" cy="72.5" r="4.95"/><circle cx="459.1" cy="72.5" r="4.95"/><circle cx="484.1" cy="72.5" r="4.95"/><circle cx="509.1" cy="72.5" r="4.95"/><circle cx="534.1" cy="72.5" r="4.95"/><circle cx="559.1" cy="72.5" r="4.95"/><circle cx="584.2" cy="72.5" r="4.95"/><circle cx="609.2" cy="72.5" r="4.95"/><circle cx="634.2" cy="72.5" r="4.95"/><circle cx="634.2" cy="102.9" r="4.95"/><circle cx="659.2" cy="101.6" r="4.95"/><circle cx="684.3" cy="100.5" r="4.95"/><circle cx="709.3" cy="99.4" r="4.95"/><circle cx="734.3" cy="98.4" r="4.95"/><circle cx="759.3" cy="97.5" r="4.95"/><circle cx="784.4" cy="96.6" r="4.95"/><circle cx="784.4" cy="119.1" r="4.95"/><circle cx="809.4" cy="117.6" r="4.95"/><circle cx="834.4" cy="116.2" r="4.95"/><circle cx="859.4" cy="114.9" r="4.95"/><circle cx="859.4" cy="134.2" r="4.95"/><circle cx="884.4" cy="132.4" r="4.95"/><circle cx="909.5" cy="130.8" r="4.95"/><circle cx="934.5" cy="129.2" r="4.95"/><circle cx="959.5" cy="127.7" r="4.95"/><circle cx="984.5" cy="126.3" r="4.95"/><circle cx="1009.6" cy="124.9" r="4.95"/><circle cx="1034.6" cy="123.6" r="4.95"/><circle cx="1034.6" cy="139.1" r="4.95"/><circle cx="1059.6" cy="137.5" r="4.95"/><circle cx="1084.6" cy="136.0" r="4.95"/><circle cx="1109.7" cy="134.6" r="4.95"/><circle cx="1134.7" cy="133.3" r="4.95"/><circle cx="1134.7" cy="146.9" r="4.95"/><circle cx="1134.7" cy="159.9" r="4.95"/><circle cx="1159.7" cy="158.1" r="4.95"/><circle cx="1159.7" cy="170.4" r="4.95"/><circle cx="1159.7" cy="182.1" r="4.95"/><circle cx="1159.7" cy="193.5" r="4.95"/><circle cx="1159.7" cy="204.4" r="4.95"/><circle cx="1159.7" cy="214.9" r="4.95"/><circle cx="1184.7" cy="212.3" r="4.95"/><circle cx="1184.7" cy="222.3" r="4.95"/><circle cx="1184.7" cy="231.9" r="4.95"/><circle cx="1184.7" cy="241.2" r="4.95"/><circle cx="1209.8" cy="238.4" r="4.95"/><circle cx="1209.8" cy="247.2" r="4.95"/><circle cx="1209.8" cy="255.8" r="4.95"/><circle cx="1209.8" cy="264.2" r="4.95"/><circle cx="1209.8" cy="272.2" r="4.95"/><circle cx="1209.8" cy="280.0" r="4.95"/><circle cx="1234.8" cy="276.8" r="4.95"/><circle cx="1234.8" cy="284.3" r="4.95"/><circle cx="1234.8" cy="291.6" r="4.95"/><circle cx="1234.8" cy="298.6" r="4.95"/><circle cx="1234.8" cy="305.5" r="4.95"/><circle cx="1234.8" cy="312.2" r="4.95"/><circle cx="1234.8" cy="318.6" r="4.95"/><circle cx="1234.8" cy="324.9" r="4.95"/><circle cx="1259.8" cy="321.5" r="4.95"/></g>
<g stroke="#68a055"><circle cx="83.7" cy="72.5" r="4.95"/><circle cx="108.7" cy="72.5" r="4.95"/><circle cx="133.7" cy="72.5" r="4.95"/><circle cx="158.8" cy="72.5" r="4.95"/><circle cx="183.8" cy="72.5" r="4.95"/><circle cx="208.8" cy="72.5" r="4.95"/><circle cx="233.8" cy="72.5" r="4.95"/><circle cx="258.9" cy="72.5" r="4.95"/><circle cx="283.9" cy="72.5" r="4.95"/><circle cx="308.9" cy="72.5" r="4.95"/><circle cx="333.9" cy="72.5" r="4.95"/><circle cx="359.0" cy="72.5" r="4.95"/><circle cx="384.0" cy="72.5" r="4.95"/><circle cx="409.0" cy="72.5" r="4.95"/><circle cx="434.0" cy="72.5" r="4.95"/><circle cx="459.1" cy="72.5" r="4.95"/><circle cx="484.1" cy="72.5" r="4.95"/><circle cx="509.1" cy="72.5" r="4.95"/><circle cx="534.1" cy="72.5" r="4.95"/><circle cx="534.1" cy="109.3" r="4.95"/><circle cx="559.1" cy="107.5" r="4.95"/><circle cx="584.2" cy="105.8" r="4.95"/><circle cx="609.2" cy="104.3" r="4.95"/><circle cx="634.2" cy="102.9" r="4.95"/><circle cx="659.2" cy="101.6" r="4.95"/><circle cx="659.2" cy="128.4" r="4.95"/><circle cx="684.3" cy="126.3" r="4.95"/><circle cx="709.3" cy="124.3" r="4.95"/><circle cx="734.3" cy="122.4" r="4.95"/><circle cx="759.3" cy="120.7" r="4.95"/><circle cx="784.4" cy="119.1" r="4.95"/><circle cx="809.4" cy="117.6" r="4.95"/><circle cx="809.4" cy="138.0" r="4.95"/><circle cx="809.4" cy="157.2" r="4.95"/><circle cx="834.4" cy="154.7" r="4.95"/><circle cx="859.4" cy="152.4" r="4.95"/><circle cx="884.4" cy="150.2" r="4.95"/><circle cx="884.4" cy="167.0" r="4.95"/><circle cx="909.5" cy="164.5" r="4.95"/><circle cx="909.5" cy="180.0" r="4.95"/><circle cx="934.5" cy="177.4" r="4.95"/><circle cx="959.5" cy="174.8" r="4.95"/><circle cx="984.5" cy="172.4" r="4.95"/><circle cx="1009.6" cy="170.0" r="4.95"/><circle cx="1034.6" cy="167.8" r="4.95"/><circle cx="1059.6" cy="165.7" r="4.95"/><circle cx="1084.6" cy="163.7" r="4.95"/><circle cx="1084.6" cy="176.6" r="4.95"/><circle cx="1084.6" cy="189.0" r="4.95"/><circle cx="1109.7" cy="186.6" r="4.95"/><circle cx="1109.7" cy="198.3" r="4.95"/><circle cx="1109.7" cy="209.6" r="4.95"/><circle cx="1109.7" cy="220.4" r="4.95"/><circle cx="1134.7" cy="217.6" r="4.95"/><circle cx="1134.7" cy="227.8" r="4.95"/><circle cx="1134.7" cy="237.7" r="4.95"/><circle cx="1134.7" cy="247.2" r="4.95"/><circle cx="1134.7" cy="256.4" r="4.95"/><circle cx="1159.7" cy="253.3" r="4.95"/><circle cx="1159.7" cy="262.1" r="4.95"/><circle cx="1159.7" cy="270.6" r="4.95"/><circle cx="1159.7" cy="278.8" r="4.95"/><circle cx="1159.7" cy="286.7" r="4.95"/><circle cx="1159.7" cy="294.4" r="4.95"/><circle cx="1159.7" cy="301.9" r="4.95"/><circle cx="1159.7" cy="309.1" r="4.95"/><circle cx="1159.7" cy="316.1" r="4.95"/><circle cx="1159.7" cy="322.9" r="4.95"/><circle cx="1159.7" cy="329.5" r="4.95"/><circle cx="1159.7" cy="335.9" r="4.95"/><circle cx="1159.7" cy="342.1" r="4.95"/><circle cx="1159.7" cy="348.2" r="4.95"/><circle cx="1159.7" cy="354.0" r="4.95"/><circle cx="1184.7" cy="350.2" r="4.95"/><circle cx="1184.7" cy="355.9" r="4.95"/><circle cx="1184.7" cy="361.4" r="4.95"/><circle cx="1184.7" cy="366.8" r="4.95"/><circle cx="1184.7" cy="372.1" r="4.95"/><circle cx="1184.7" cy="377.2" r="4.95"/><circle cx="1184.7" cy="382.2" r="4.95"/><circle cx="1209.8" cy="378.3" r="4.95"/><circle cx="1209.8" cy="383.2" r="4.95"/><circle cx="1209.8" cy="387.9" r="4.95"/><circle cx="1209.8" cy="392.5" r="4.95"/><circle cx="1209.8" cy="397.0" r="4.95"/><circle cx="1209.8" cy="401.4" r="4.95"/><circle cx="1209.8" cy="405.7" r="4.95"/><circle cx="1209.8" cy="409.9" r="4.95"/><circle cx="1234.8" cy="406.1" r="4.95"/><circle cx="1234.8" cy="410.2" r="4.95"/><circle cx="1234.8" cy="414.2" r="4.95"/><circle cx="1234.8" cy="418.2" r="4.95"/><circle cx="1234.8" cy="422.0" r="4.95"/><circle cx="1234.8" cy="425.8" r="4.95"/><circle cx="1234.8" cy="429.4" r="4.95"/><circle cx="1234.8" cy="433.0" r="4.95"/><circle cx="1234.8" cy="436.6" r="4.95"/><circle cx="1234.8" cy="440.0" r="4.95"/><circle cx="1234.8" cy="443.4" r="4.95"/><circle cx="1234.8" cy="446.7" r="4.95"/><circle cx="1234.8" cy="450.0" r="4.95"/><circle cx="1234.8" cy="453.1" r="4.95"/><circle cx="1234.8" cy="456.3" r="4.95"/><circle cx="1234.8" cy="459.3" r="4.95"/><circle cx="1234.8" cy="462.3" r="4.95"/><circle cx="1234.8" cy="465.3" r="4.95"/><circle cx="1234.8" cy="468.2" r="4.95"/><circle cx="1234.8" cy="471.0" r="4.95"/><circle cx="1234.8" cy="473.8" r="4.95"/><circle cx="1234.8" cy="476.5" r="4.95"/><circle cx="1234.8" cy="479.2" r="4.95"/><circle cx="1234.8" cy="481.8" r="4.95"/><circle cx="1234.8" cy="484.4" r="4.95"/><circle cx="1234.8" cy="487.0" r="4.95"/><circle cx="1234.8" cy="489.4" r="4.95"/><circle cx="1234.8" cy="491.9" r="4.95"/><circle cx="1234.8" cy="494.3" r="4.95"/><circle cx="1234.8" cy="496.7" r="4.95"/><circle cx="1234.8" cy="499.0" r="4.95"/><circle cx="1234.8" cy="501.3" r="4.95"/><circle cx="1234.8" cy="503.5" r="4.95"/><circle cx="1234.8" cy="505.8" r="4.95"/><circle cx="1234.8" cy="507.9" r="4.95"/><circle cx="1234.8" cy="510.1" r="4.95"/><circle cx="1234.8" cy="512.2" r="4.95"/><circle cx="1234.8" cy="514.3" r="4.95"/><circle cx="1234.8" cy="516.3" r="4.95"/><circle cx="1234.8" cy="518.3" r="4.95"/><circle cx="1234.8" cy="520.3" r="4.95"/><circle cx="1234.8" cy="522.2" r="4.95"/><circle cx="1234.8" cy="524.2" r="4.95"/><circle cx="1234.8" cy="526.0" r="4.95"/><circle cx="1234.8" cy="527.9" r="4.95"/><circle cx="1234.8" cy="529.7" r="4.95"/><circle cx="1234.8" cy="531.5" r="4.95"/><circle cx="1234.8" cy="533.3" r="4.95"/><circle cx="1234.8" cy="535.1" r="4.95"/><circle cx="1234.8" cy="536.8" r="4.95"/><circle cx="1234.8" cy="538.5" r="4.95"/><circle cx="1234.8" cy="540.2" r="4.95"/><circle cx="1234.8" cy="541.8" r="4.95"/><circle cx="1234.8" cy="543.5" r="4.95"/><circle cx="1234.8" cy="545.1" r="4.95"/><circle cx="1234.8" cy="546.6" r="4.95"/><circle cx="1234.8" cy="548.2" r="4.95"/><circle cx="1234.8" cy="549.7" r="4.95"/><circle cx="1234.8" cy="551.3" r="4.95"/><circle cx="1234.8" cy="552.8" r="4.95"/><circle cx="1234.8" cy="554.2" r="4.95"/><circle cx="1234.8" cy="555.7" r="4.95"/><circle cx="1234.8" cy="557.1" r="4.95"/><circle cx="1234.8" cy="558.6" r="4.95"/><circle cx="1234.8" cy="560.0" r="4.95"/><circle cx="1234.8" cy="561.3" r="4.95"/><circle cx="1234.8" cy="562.7" r="4.95"/><circle cx="1234.8" cy="564.1" r="4.95"/><circle cx="1234.8" cy="565.4" r="4.95"/><circle cx="1234.8" cy="566.7" r="4.95"/><circle cx="1259.8" cy="563.6" r="4.95"/></g>
<g stroke="#e8cb58"><circle cx="83.7" cy="72.5" r="4.95"/><circle cx="110.4" cy="72.5" r="4.95"/><circle cx="137.2" cy="72.5" r="4.95"/><circle cx="163.9" cy="72.5" r="4.95"/><circle cx="190.6" cy="72.5" r="4.95"/><circle cx="217.3" cy="72.5" r="4.95"/><circle cx="244.1" cy="72.5" r="4.95"/><circle cx="270.8" cy="72.5" r="4.95"/><circle cx="297.5" cy="72.5" r="4.95"/><circle cx="324.3" cy="72.5" r="4.95"/><circle cx="351.0" cy="72.5" r="4.95"/><circle cx="377.7" cy="72.5" r="4.95"/><circle cx="404.5" cy="72.5" r="4.95"/><circle cx="431.2" cy="72.5" r="4.95"/><circle cx="457.9" cy="72.5" r="4.95"/><circle cx="484.6" cy="72.5" r="4.95"/><circle cx="511.4" cy="72.5" r="4.95"/><circle cx="538.1" cy="72.5" r="4.95"/><circle cx="564.8" cy="72.5" r="4.95"/><circle cx="591.6" cy="72.5" r="4.95"/><circle cx="618.3" cy="72.5" r="4.95"/><circle cx="645.0" cy="72.5" r="4.95"/><circle cx="671.8" cy="72.5" r="4.95"/><circle cx="698.5" cy="72.5" r="4.95"/><circle cx="725.2" cy="72.5" r="4.95"/><circle cx="751.9" cy="72.5" r="4.95"/><circle cx="778.7" cy="72.5" r="4.95"/><circle cx="805.4" cy="72.5" r="4.95"/><circle cx="832.1" cy="72.5" r="4.95"/><circle cx="858.9" cy="72.5" r="4.95"/><circle cx="885.6" cy="72.5" r="4.95"/><circle cx="885.6" cy="95.0" r="4.95"/><circle cx="912.3" cy="94.3" r="4.95"/><circle cx="939.0" cy="93.7" r="4.95"/><circle cx="965.8" cy="93.1" r="4.95"/><circle cx="992.5" cy="92.5" r="4.95"/><circle cx="1019.2" cy="91.9" r="4.95"/><circle cx="1019.2" cy="110.3" r="4.95"/><circle cx="1046.0" cy="109.3" r="4.95"/><circle cx="1046.0" cy="126.3" r="4.95"/><circle cx="1046.0" cy="142.4" r="4.95"/><circle cx="1072.7" cy="140.7" r="4.95"/><circle cx="1072.7" cy="155.7" r="4.95"/><circle cx="1072.7" cy="170.0" r="4.95"/><circle cx="1099.4" cy="167.8" r="4.95"/><circle cx="1099.4" cy="181.2" r="4.95"/><circle cx="1099.4" cy="194.1" r="4.95"/><circle cx="1126.2" cy="191.5" r="4.95"/><circle cx="1126.2" cy="203.6" r="4.95"/><circle cx="1126.2" cy="215.2" r="4.95"/><circle cx="1152.9" cy="212.3" r="4.95"/><circle cx="1152.9" cy="223.3" r="4.95"/><circle cx="1179.6" cy="220.4" r="4.95"/><circle cx="1179.6" cy="230.8" r="4.95"/><circle cx="1179.6" cy="240.8" r="4.95"/><circle cx="1179.6" cy="250.4" r="4.95"/><circle cx="1179.6" cy="259.7" r="4.95"/><circle cx="1179.6" cy="268.7" r="4.95"/><circle cx="1179.6" cy="277.4" r="4.95"/><circle cx="1179.6" cy="285.8" r="4.95"/><circle cx="1179.6" cy="293.8" r="4.95"/><circle cx="1179.6" cy="301.7" r="4.95"/><circle cx="1179.6" cy="309.3" r="4.95"/><circle cx="1179.6" cy="316.6" r="4.95"/><circle cx="1206.3" cy="312.8" r="4.95"/><circle cx="1206.3" cy="319.8" r="4.95"/><circle cx="1206.3" cy="326.7" r="4.95"/><circle cx="1206.3" cy="333.3" r="4.95"/><circle cx="1206.3" cy="339.8" r="4.95"/><circle cx="1206.3" cy="346.0" r="4.95"/><circle cx="1206.3" cy="352.1" r="4.95"/><circle cx="1206.3" cy="358.0" r="4.95"/><circle cx="1206.3" cy="363.8" r="4.95"/><circle cx="1206.3" cy="369.3" r="4.95"/><circle cx="1206.3" cy="374.8" r="4.95"/><circle cx="1206.3" cy="380.1" r="4.95"/><circle cx="1206.3" cy="385.2" r="4.95"/><circle cx="1206.3" cy="390.2" r="4.95"/><circle cx="1206.3" cy="395.1" r="4.95"/><circle cx="1206.3" cy="399.9" r="4.95"/><circle cx="1206.3" cy="404.5" r="4.95"/><circle cx="1206.3" cy="409.1" r="4.95"/><circle cx="1206.3" cy="413.5" r="4.95"/><circle cx="1206.3" cy="417.8" r="4.95"/><circle cx="1206.3" cy="422.0" r="4.95"/><circle cx="1206.3" cy="426.1" r="4.95"/><circle cx="1206.3" cy="430.1" r="4.95"/><circle cx="1206.3" cy="434.1" r="4.95"/><circle cx="1206.3" cy="437.9" r="4.95"/><circle cx="1206.3" cy="441.6" r="4.95"/><circle cx="1206.3" cy="445.3" r="4.95"/><circle cx="1206.3" cy="448.9" r="4.95"/><circle cx="1206.3" cy="452.4" r="4.95"/><circle cx="1206.3" cy="455.8" r="4.95"/><circle cx="1206.3" cy="459.2" r="4.95"/><circle cx="1206.3" cy="462.5" r="4.95"/><circle cx="1206.3" cy="465.7" r="4.95"/><circle cx="1206.3" cy="468.8" r="4.95"/><circle cx="1206.3" cy="471.9" r="4.95"/><circle cx="1206.3" cy="475.0" r="4.95"/><circle cx="1206.3" cy="477.9" r="4.95"/><circle cx="1233.1" cy="473.9" r="4.95"/><circle cx="1233.1" cy="476.8" r="4.95"/><circle cx="1233.1" cy="479.7" r="4.95"/><circle cx="1233.1" cy="482.5" r="4.95"/><circle cx="1233.1" cy="485.2" r="4.95"/><circle cx="1233.1" cy="487.9" r="4.95"/><circle cx="1233.1" cy="490.6" r="4.95"/><circle cx="1259.8" cy="486.7" r="4.95"/></g>
<g stroke="#aa7ba0"><circle cx="83.7" cy="72.5" r="4.95"/><circle cx="107.2" cy="72.5" r="4.95"/><circle cx="130.7" cy="72.5" r="4.95"/><circle cx="154.3" cy="72.5" r="4.95"/><circle cx="177.8" cy="72.5" r="4.95"/><circle cx="201.3" cy="72.5" r="4.95"/><circle cx="224.8" cy="72.5" r="4.95"/><circle cx="248.4" cy="72.5" r="4.95"/><circle cx="271.9" cy="72.5" r="4.95"/><circle cx="295.4" cy="72.5" r="4.95"/><circle cx="318.9" cy="72.5" r="4.95"/><circle cx="342.4" cy="72.5" r="4.95"/><circle cx="366.0" cy="72.5" r="4.95"/><circle cx="389.5" cy="72.5" r="4.95"/><circle cx="413.0" cy="72.5" r="4.95"/><circle cx="436.5" cy="72.5" r="4.95"/><circle cx="460.1" cy="72.5" r="4.95"/><circle cx="483.6" cy="72.5" r="4.95"/><circle cx="507.1" cy="72.5" r="4.95"/><circle cx="530.6" cy="72.5" r="4.95"/><circle cx="554.1" cy="72.5" r="4.95"/><circle cx="577.7" cy="72.5" r="4.95"/><circle cx="601.2" cy="72.5" r="4.95"/><circle cx="624.7" cy="72.5" r="4.95"/><circle cx="648.2" cy="72.5" r="4.95"/><circle cx="671.8" cy="72.5" r="4.95"/><circle cx="695.3" cy="72.5" r="4.95"/><circle cx="718.8" cy="72.5" r="4.95"/><circle cx="742.3" cy="72.5" r="4.95"/><circle cx="765.8" cy="72.5" r="4.95"/><circle cx="789.4" cy="72.5" r="4.95"/><circle cx="789.4" cy="95.0" r="4.95"/><circle cx="812.9" cy="94.3" r="4.95"/><circle cx="836.4" cy="93.7" r="4.95"/><circle cx="859.9" cy="93.1" r="4.95"/><circle cx="883.4" cy="92.5" r="4.95"/><circle cx="907.0" cy="91.9" r="4.95"/><circle cx="930.5" cy="91.4" r="4.95"/><circle cx="930.5" cy="109.3" r="4.95"/><circle cx="954.0" cy="108.3" r="4.95"/><circle cx="954.0" cy="124.9" r="4.95"/><circle cx="977.5" cy="123.6" r="4.95"/><circle cx="1001.1" cy="122.4" r="4.95"/><circle cx="1024.6" cy="121.3" r="4.95"/><circle cx="1024.6" cy="136.0" r="4.95"/><circle cx="1048.1" cy="134.6" r="4.95"/><circle cx="1048.1" cy="148.5" r="4.95"/><circle cx="1048.1" cy="161.7" r="4.95"/><circle cx="1071.6" cy="159.9" r="4.95"/><circle cx="1071.6" cy="172.4" r="4.95"/><circle cx="1071.6" cy="184.3" r="4.95"/><circle cx="1095.1" cy="182.1" r="4.95"/><circle cx="1095.1" cy="193.5" r="4.95"/><circle cx="1118.7" cy="191.2" r="4.95"/><circle cx="1118.7" cy="201.9" r="4.95"/><circle cx="1118.7" cy="212.3" r="4.95"/><circle cx="1118.7" cy="222.3" r="4.95"/><circle cx="1142.2" cy="219.7" r="4.95"/><circle cx="1142.2" cy="229.2" r="4.95"/><circle cx="1165.7" cy="226.5" r="4.95"/><circle cx="1165.7" cy="235.6" r="4.95"/><circle cx="1189.2" cy="232.9" r="4.95"/><circle cx="1189.2" cy="241.6" r="4.95"/><circle cx="1189.2" cy="250.0" r="4.95"/><circle cx="1189.2" cy="258.2" r="4.95"/><circle cx="1189.2" cy="266.1" r="4.95"/><circle cx="1189.2" cy="273.7" r="4.95"/><circle cx="1189.2" cy="281.2" r="4.95"/><circle cx="1189.2" cy="288.4" r="4.95"/><circle cx="1189.2" cy="295.4" r="4.95"/><circle cx="1189.2" cy="302.2" r="4.95"/><circle cx="1212.8" cy="298.9" r="4.95"/><circle cx="1212.8" cy="305.5" r="4.95"/><circle cx="1212.8" cy="311.9" r="4.95"/><circle cx="1212.8" cy="318.1" r="4.95"/><circle cx="1212.8" cy="324.1" r="4.95"/><circle cx="1236.3" cy="320.8" r="4.95"/><circle cx="1236.3" cy="326.7" r="4.95"/><circle cx="1236.3" cy="332.4" r="4.95"/><circle cx="1236.3" cy="337.9" r="4.95"/><circle cx="1236.3" cy="343.4" r="4.95"/><circle cx="1236.3" cy="348.6" r="4.95"/><circle cx="1236.3" cy="353.8" r="4.95"/><circle cx="1236.3" cy="358.8" r="4.95"/><circle cx="1236.3" cy="363.8" r="4.95"/><circle cx="1236.3" cy="368.5" r="4.95"/><circle cx="1236.3" cy="373.2" r="4.95"/><circle cx="1236.3" cy="377.8" r="4.95"/><circle cx="1236.3" cy="382.3" r="4.95"/><circle cx="1236.3" cy="386.7" r="4.95"/><circle cx="1236.3" cy="390.9" r="4.95"/><circle cx="1236.3" cy="395.1" r="4.95"/><circle cx="1236.3" cy="399.2" r="4.95"/><circle cx="1236.3" cy="403.2" r="4.95"/><circle cx="1236.3" cy="407.1" r="4.95"/><circle cx="1236.3" cy="411.0" r="4.95"/><circle cx="1236.3" cy="414.7" r="4.95"/><circle cx="1236.3" cy="418.4" r="4.95"/><circle cx="1236.3" cy="422.0" r="4.95"/><circle cx="1236.3" cy="425.5" r="4.95"/><circle cx="1236.3" cy="429.0" r="4.95"/><circle cx="1236.3" cy="432.4" r="4.95"/><circle cx="1236.3" cy="435.7" r="4.95"/><circle cx="1236.3" cy="439.0" r="4.95"/><circle cx="1236.3" cy="442.2" r="4.95"/><circle cx="1236.3" cy="445.3" r="4.95"/><circle cx="1236.3" cy="448.4" r="4.95"/><circle cx="1236.3" cy="451.4" r="4.95"/><circle cx="1236.3" cy="454.4" r="4.95"/><circle cx="1236.3" cy="457.3" r="4.95"/><circle cx="1236.3" cy="460.1" r="4.95"/><circle cx="1236.3" cy="462.9" r="4.95"/><circle cx="1236.3" cy="465.7" r="4.95"/><circle cx="1236.3" cy="468.4" r="4.95"/><circle cx="1236.3" cy="471.1" r="4.95"/><circle cx="1236.3" cy="473.7" r="4.95"/><circle cx="1236.3" cy="476.2" r="4.95"/><circle cx="1236.3" cy="478.8" r="4.95"/><circle cx="1236.3" cy="481.2" r="4.95"/><circle cx="1236.3" cy="483.7" r="4.95"/><circle cx="1236.3" cy="486.1" r="4.95"/><circle cx="1236.3" cy="488.4" r="4.95"/><circle cx="1236.3" cy="490.8" r="4.95"/><circle cx="1236.3" cy="493.0" r="4.95"/><circle cx="1236.3" cy="495.3" r="4.95"/><circle cx="1236.3" cy="497.5" r="4.95"/><circle cx="1236.3" cy="499.7" r="4.95"/><circle cx="1236.3" cy="501.8" r="4.95"/><circle cx="1236.3" cy="503.9" r="4.95"/><circle cx="1236.3" cy="506.0" r="4.95"/><circle cx="1236.3" cy="508.0" r="4.95"/><circle cx="1236.3" cy="510.0" r="4.95"/><circle cx="1236.3" cy="512.0" r="4.95"/><circle cx="1236.3" cy="514.0" r="4.95"/><circle cx="1236.3" cy="515.9" r="4.95"/><circle cx="1236.3" cy="517.8" r="4.95"/><circle cx="1236.3" cy="519.7" r="4.95"/><circle cx="1236.3" cy="521.5" r="4.95"/><circle cx="1236.3" cy="523.3" r="4.95"/><circle cx="1236.3" cy="525.1" r="4.95"/><circle cx="1236.3" cy="526.9" r="4.95"/><circle cx="1236.3" cy="528.6" r="4.95"/><circle cx="1236.3" cy="530.3" r="4.95"/><circle cx="1236.3" cy="532.0" r="4.95"/><circle cx="1236.3" cy="533.6" r="4.95"/><circle cx="1236.3" cy="535.3" r="4.95"/><circle cx="1236.3" cy="536.9" r="4.95"/><circle cx="1236.3" cy="538.5" r="4.95"/><circle cx="1236.3" cy="540.1" r="4.95"/><circle cx="1236.3" cy="541.6" r="4.95"/><circle cx="1236.3" cy="543.2" r="4.95"/><circle cx="1236.3" cy="544.7" r="4.95"/><circle cx="1236.3" cy="546.2" r="4.95"/><circle cx="1236.3" cy="547.6" r="4.95"/><circle cx="1236.3" cy="549.1" r="4.95"/><circle cx="1236.3" cy="550.5" r="4.95"/><circle cx="1236.3" cy="551.9" r="4.95"/><circle cx="1236.3" cy="553.3" r="4.95"/><circle cx="1236.3" cy="554.7" r="4.95"/><circle cx="1236.3" cy="556.1" r="4.95"/><circle cx="1236.3" cy="557.4" r="4.95"/><circle cx="1236.3" cy="558.8" r="4.95"/><circle cx="1236.3" cy="560.1" r="4.95"/><circle cx="1236.3" cy="561.4" r="4.95"/><circle cx="1236.3" cy="562.7" r="4.95"/><circle cx="1236.3" cy="563.9" r="4.95"/><circle cx="1236.3" cy="565.2" r="4.95"/><circle cx="1236.3" cy="566.4" r="4.95"/><circle cx="1236.3" cy="567.6" r="4.95"/><circle cx="1236.3" cy="568.8" r="4.95"/><circle cx="1236.3" cy="570.0" r="4.95"/><circle cx="1236.3" cy="571.2" r="4.95"/><circle cx="1236.3" cy="572.4" r="4.95"/><circle cx="1236.3" cy="573.5" r="4.95"/><circle cx="1236.3" cy="574.7" r="4.95"/><circle cx="1236.3" cy="575.8" r="4.95"/><circle cx="1236.3" cy="576.9" r="4.95"/><circle cx="1236.3" cy="578.0" r="4.95"/><circle cx="1236.3" cy="579.1" r="4.95"/><circle cx="1236.3" cy="580.2" r="4.95"/><circle cx="1236.3" cy="581.2" r="4.95"/><circle cx="1236.3" cy="582.3" r="4.95"/><circle cx="1236.3" cy="583.3" r="4.95"/><circle cx="1236.3" cy="584.3" r="4.95"/><circle cx="1236.3" cy="585.4" r="4.95"/><circle cx="1236.3" cy="586.4" r="4.95"/><circle cx="1236.3" cy="587.4" r="4.95"/><circle cx="1236.3" cy="588.3" r="4.95"/><circle cx="1236.3" cy="589.3" r="4.95"/><circle cx="1236.3" cy="590.3" r="4.95"/><circle cx="1236.3" cy="591.2" r="4.95"/><circle cx="1236.3" cy="592.2" r="4.95"/><circle cx="1236.3" cy="593.1" r="4.95"/><circle cx="1236.3" cy="594.0" r="4.95"/><circle cx="1236.3" cy="594.9" r="4.95"/><circle cx="1236.3" cy="595.9" r="4.95"/><circle cx="1236.3" cy="596.8" r="4.95"/><circle cx="1236.3" cy="597.6" r="4.95"/><circle cx="1236.3" cy="598.5" r="4.95"/><circle cx="1236.3" cy="599.4" r="4.95"/><circle cx="1236.3" cy="600.2" r="4.95"/><circle cx="1236.3" cy="601.1" r="4.95"/><circle cx="1236.3" cy="601.9" r="4.95"/><circle cx="1236.3" cy="602.8" r="4.95"/><circle cx="1236.3" cy="603.6" r="4.95"/><circle cx="1236.3" cy="604.4" r="4.95"/><circle cx="1236.3" cy="605.2" r="4.95"/><circle cx="1236.3" cy="606.0" r="4.95"/><circle cx="1236.3" cy="606.8" r="4.95"/><circle cx="1236.3" cy="607.6" r="4.95"/><circle cx="1236.3" cy="608.4" r="4.95"/><circle cx="1236.3" cy="609.2" r="4.95"/><circle cx="1236.3" cy="609.9" r="4.95"/><circle cx="1236.3" cy="610.7" r="4.95"/><circle cx="1236.3" cy="611.4" r="4.95"/><circle cx="1236.3" cy="612.2" r="4.95"/><circle cx="1236.3" cy="612.9" r="4.95"/><circle cx="1236.3" cy="613.7" r="4.95"/><circle cx="1236.3" cy="614.4" r="4.95"/><circle cx="1236.3" cy="615.1" r="4.95"/><circle cx="1236.3" cy="615.8" r="4.95"/><circle cx="1236.3" cy="616.5" r="4.95"/><circle cx="1236.3" cy="617.2" r="4.95"/><circle cx="1236.3" cy="617.9" r="4.95"/><circle cx="1236.3" cy="618.6" r="4.95"/><circle cx="1236.3" cy="619.3" r="4.95"/><circle cx="1236.3" cy="619.9" r="4.95"/><circle cx="1236.3" cy="620.6" r="4.95"/><circle cx="1236.3" cy="621.3" r="4.95"/><circle cx="1236.3" cy="621.9" r="4.95"/><circle cx="1236.3" cy="622.6" r="4.95"/><circle cx="1236.3" cy="623.2" r="4.95"/><circle cx="1236.3" cy="623.9" r="4.95"/><circle cx="1236.3" cy="624.5" r="4.95"/><circle cx="1236.3" cy="625.1" r="4.95"/><circle cx="1236.3" cy="625.8" r="4.95"/><circle cx="1236.3" cy="626.4" r="4.95"/><circle cx="1236.3" cy="627.0" r="4.95"/><circle cx="1236.3" cy="627.6" r="4.95"/><circle cx="1236.3" cy="628.2" r="4.95"/><circle cx="1236.3" cy="628.8" r="4.95"/><circle cx="1236.3" cy="629.4" r="4.95"/><circle cx="1236.3" cy="630.0" r="4.95"/><circle cx="1236.3" cy="630.5" r="4.95"/><circle cx="1236.3" cy="631.1" r="4.95"/><circle cx="1236.3" cy="631.7" r="4.95"/><circle cx="1236.3" cy="632.3" r="4.95"/><circle cx="1236.3" cy="632.8" r="4.95"/><circle cx="1236.3" cy="633.4" r="4.95"/><circle cx="1236.3" cy="633.9" r="4.95"/><circle cx="1236.3" cy="634.5" r="4.95"/><circle cx="1236.3" cy="635.0" r="4.95"/><circle cx="1236.3" cy="635.6" r="4.95"/><circle cx="1236.3" cy="636.1" r="4.95"/><circle cx="1236.3" cy="636.7" r="4.95"/><circle cx="1236.3" cy="637.2" r="4.95"/><circle cx="1236.3" cy="637.7" r="4.95"/><circle cx="1236.3" cy="638.2" r="4.95"/><circle cx="1236.3" cy="638.7" r="4.95"/><circle cx="1236.3" cy="639.3" r="4.95"/><circle cx="1236.3" cy="639.8" r="4.95"/><circle cx="1236.3" cy="640.3" r="4.95"/><circle cx="1236.3" cy="640.8" r="4.95"/><circle cx="1236.3" cy="641.3" r="4.95"/><circle cx="1236.3" cy="641.8" r="4.95"/><circle cx="1236.3" cy="642.3" r="4.95"/><circle cx="1236.3" cy="642.7" r="4.95"/><circle cx="1236.3" cy="643.2" r="4.95"/><circle cx="1236.3" cy="643.7" r="4.95"/><circle cx="1236.3" cy="644.2" r="4.95"/><circle cx="1236.3" cy="644.6" r="4.95"/><circle cx="1236.3" cy="645.1" r="4.95"/><circle cx="1236.3" cy="645.6" r="4.95"/><circle cx="1236.3" cy="646.0" r="4.95"/><circle cx="1236.3" cy="646.5" r="4.95"/><circle cx="1236.3" cy="647.0" r="4.95"/><circle cx="1236.3" cy="647.4" r="4.95"/><circle cx="1236.3" cy="647.9" r="4.95"/><circle cx="1236.3" cy="648.3" r="4.95"/><circle cx="1236.3" cy="648.7" r="4.95"/><circle cx="1236.3" cy="649.2" r="4.95"/><circle cx="1236.3" cy="649.6" r="4.95"/><circle cx="1236.3" cy="650.0" r="4.95"/><circle cx="1236.3" cy="650.5" r="4.95"/><circle cx="1236.3" cy="650.9" r="4.95"/><circle cx="1236.3" cy="651.3" r="4.95"/><circle cx="1236.3" cy="651.7" r="4.95"/><circle cx="1236.3" cy="652.2" r="4.95"/><circle cx="1236.3" cy="652.6" r="4.95"/><circle cx="1236.3" cy="653.0" r="4.95"/><circle cx="1236.3" cy="653.4" r="4.95"/><circle cx="1236.3" cy="653.8" r="4.95"/><circle cx="1236.3" cy="654.2" r="4.95"/><circle cx="1236.3" cy="654.6" r="4.95"/><circle cx="1236.3" cy="655.0" r="4.95"/><circle cx="1236.3" cy="655.4" r="4.95"/><circle cx="1236.3" cy="655.8" r="4.95"/><circle cx="1236.3" cy="656.2" r="4.95"/><circle cx="1236.3" cy="656.6" r="4.95"/><circle cx="1236.3" cy="656.9" r="4.95"/><circle cx="1236.3" cy="657.3" r="4.95"/><circle cx="1236.3" cy="657.7" r="4.95"/><circle cx="1236.3" cy="658.1" r="4.95"/><circle cx="1236.3" cy="658.5" r="4.95"/><circle cx="1236.3" cy="658.8" r="4.95"/><circle cx="1236.3" cy="659.2" r="4.95"/><circle cx="1236.3" cy="659.6" r="4.95"/><circle cx="1236.3" cy="659.9" r="4.95"/><circle cx="1236.3" cy="660.3" r="4.95"/><circle cx="1236.3" cy="660.7" r="4.95"/><circle cx="1236.3" cy="661.0" r="4.95"/><circle cx="1236.3" cy="661.4" r="4.95"/><circle cx="1236.3" cy="661.7" r="4.95"/><circle cx="1236.3" cy="662.1" r="4.95"/><circle cx="1236.3" cy="662.4" r="4.95"/><circle cx="1236.3" cy="662.8" r="4.95"/><circle cx="1236.3" cy="663.1" r="4.95"/><circle cx="1236.3" cy="663.5" r="4.95"/><circle cx="1236.3" cy="663.8" r="4.95"/><circle cx="1236.3" cy="664.1" r="4.95"/><circle cx="1236.3" cy="664.5" r="4.95"/><circle cx="1236.3" cy="664.8" r="4.95"/><circle cx="1236.3" cy="665.1" r="4.95"/><circle cx="1236.3" cy="665.5" r="4.95"/><circle cx="1236.3" cy="665.8" r="4.95"/><circle cx="1236.3" cy="666.1" r="4.95"/><circle cx="1236.3" cy="666.4" r="4.95"/><circle cx="1236.3" cy="666.8" r="4.95"/><circle cx="1236.3" cy="667.1" r="4.95"/><circle cx="1236.3" cy="667.4" r="4.95"/><circle cx="1236.3" cy="667.7" r="4.95"/><circle cx="1236.3" cy="668.0" r="4.95"/><circle cx="1236.3" cy="668.3" r="4.95"/><circle cx="1236.3" cy="668.6" r="4.95"/><circle cx="1236.3" cy="669.0" r="4.95"/><circle cx="1236.3" cy="669.3" r="4.95"/><circle cx="1236.3" cy="669.6" r="4.95"/><circle cx="1236.3" cy="669.9" r="4.95"/><circle cx="1236.3" cy="670.2" r="4.95"/><circle cx="1236.3" cy="670.5" r="4.95"/><circle cx="1236.3" cy="670.8" r="4.95"/><circle cx="1236.3" cy="671.1" r="4.95"/><circle cx="1236.3" cy="671.4" r="4.95"/><circle cx="1236.3" cy="671.6" r="4.95"/><circle cx="1236.3" cy="671.9" r="4.95"/><circle cx="1236.3" cy="672.2" r="4.95"/><circle cx="1236.3" cy="672.5" r="4.95"/><circle cx="1236.3" cy="672.8" r="4.95"/><circle cx="1236.3" cy="673.1" r="4.95"/><circle cx="1236.3" cy="673.4" r="4.95"/><circle cx="1236.3" cy="673.6" r="4.95"/><circle cx="1259.8" cy="671.9" r="4.95"/></g>
<g stroke="#f1a2a7"><circle cx="83.7" cy="72.5" r="4.95"/><circle cx="107.7" cy="72.5" r="4.95"/><circle cx="131.7" cy="72.5" r="4.95"/><circle cx="155.7" cy="72.5" r="4.95"/><circle cx="179.7" cy="72.5" r="4.95"/><circle cx="203.7" cy="72.5" r="4.95"/><circle cx="227.7" cy="72.5" r="4.95"/><circle cx="251.7" cy="72.5" r="4.95"/><circle cx="275.7" cy="72.5" r="4.95"/><circle cx="299.7" cy="72.5" r="4.95"/><circle cx="323.7" cy="72.5" r="4.95"/><circle cx="347.7" cy="72.5" r="4.95"/><circle cx="371.7" cy="72.5" r="4.95"/><circle cx="395.7" cy="72.5" r="4.95"/><circle cx="419.7" cy="72.5" r="4.95"/><circle cx="443.7" cy="72.5" r="4.95"/><circle cx="467.7" cy="72.5" r="4.95"/><circle cx="491.7" cy="72.5" r="4.95"/><circle cx="515.7" cy="72.5" r="4.95"/><circle cx="539.7" cy="72.5" r="4.95"/><circle cx="563.7" cy="72.5" r="4.95"/><circle cx="587.7" cy="72.5" r="4.95"/><circle cx="611.7" cy="72.5" r="4.95"/><circle cx="611.7" cy="102.9" r="4.95"/><circle cx="635.7" cy="101.6" r="4.95"/><circle cx="659.7" cy="100.5" r="4.95"/><circle cx="683.8" cy="99.4" r="4.95"/><circle cx="707.8" cy="98.4" r="4.95"/><circle cx="731.8" cy="97.5" r="4.95"/><circle cx="755.8" cy="96.6" r="4.95"/><circle cx="779.8" cy="95.8" r="4.95"/><circle cx="803.8" cy="95.0" r="4.95"/><circle cx="827.8" cy="94.3" r="4.95"/><circle cx="851.8" cy="93.7" r="4.95"/><circle cx="875.8" cy="93.1" r="4.95"/><circle cx="875.8" cy="112.4" r="4.95"/><circle cx="875.8" cy="130.8" r="4.95"/><circle cx="899.8" cy="129.2" r="4.95"/><circle cx="899.8" cy="146.1" r="4.95"/><circle cx="899.8" cy="162.1" r="4.95"/><circle cx="923.8" cy="159.9" r="4.95"/><circle cx="923.8" cy="174.8" r="4.95"/><circle cx="923.8" cy="189.0" r="4.95"/><circle cx="947.8" cy="186.3" r="4.95"/><circle cx="971.8" cy="183.7" r="4.95"/><circle cx="995.8" cy="181.2" r="4.95"/><circle cx="995.8" cy="194.1" r="4.95"/><circle cx="995.8" cy="206.4" r="4.95"/><circle cx="995.8" cy="218.1" r="4.95"/><circle cx="995.8" cy="229.4" r="4.95"/><circle cx="995.8" cy="240.3" r="4.95"/><circle cx="995.8" cy="250.7" r="4.95"/><circle cx="1019.8" cy="247.2" r="4.95"/><circle cx="1043.8" cy="244.0" r="4.95"/><circle cx="1043.8" cy="253.7" r="4.95"/><circle cx="1043.8" cy="263.1" r="4.95"/><circle cx="1043.8" cy="272.2" r="4.95"/><circle cx="1043.8" cy="281.0" r="4.95"/><circle cx="1067.8" cy="277.4" r="4.95"/><circle cx="1067.8" cy="285.8" r="4.95"/><circle cx="1067.8" cy="293.8" r="4.95"/><circle cx="1067.8" cy="301.7" r="4.95"/><circle cx="1067.8" cy="309.3" r="4.95"/><circle cx="1067.8" cy="316.6" r="4.95"/><circle cx="1067.8" cy="323.7" r="4.95"/><circle cx="1091.8" cy="319.8" r="4.95"/><circle cx="1091.8" cy="326.7" r="4.95"/><circle cx="1091.8" cy="333.3" r="4.95"/><circle cx="1091.8" cy="339.8" r="4.95"/><circle cx="1091.8" cy="346.0" r="4.95"/><circle cx="1091.8" cy="352.1" r="4.95"/><circle cx="1091.8" cy="358.0" r="4.95"/><circle cx="1091.8" cy="363.8" r="4.95"/><circle cx="1091.8" cy="369.3" r="4.95"/><circle cx="1091.8" cy="374.8" r="4.95"/><circle cx="1091.8" cy="380.1" r="4.95"/><circle cx="1091.8" cy="385.2" r="4.95"/><circle cx="1091.8" cy="390.2" r="4.95"/><circle cx="1115.8" cy="386.2" r="4.95"/><circle cx="1115.8" cy="391.0" r="4.95"/><circle cx="1139.8" cy="387.0" r="4.95"/><circle cx="1163.8" cy="383.2" r="4.95"/><circle cx="1163.8" cy="387.9" r="4.95"/><circle cx="1163.8" cy="392.5" r="4.95"/><circle cx="1163.8" cy="397.0" r="4.95"/><circle cx="1163.8" cy="401.4" r="4.95"/><circle cx="1163.8" cy="405.7" r="4.95"/><circle cx="1163.8" cy="409.9" r="4.95"/><circle cx="1163.8" cy="414.1" r="4.95"/><circle cx="1163.8" cy="418.1" r="4.95"/><circle cx="1163.8" cy="422.0" r="4.95"/><circle cx="1163.8" cy="425.8" r="4.95"/><circle cx="1163.8" cy="429.6" r="4.95"/><circle cx="1187.8" cy="425.8" r="4.95"/><circle cx="1187.8" cy="429.4" r="4.95"/><circle cx="1187.8" cy="433.0" r="4.95"/><circle cx="1187.8" cy="436.6" r="4.95"/><circle cx="1187.8" cy="440.0" r="4.95"/><circle cx="1211.8" cy="436.3" r="4.95"/><circle cx="1211.8" cy="439.7" r="4.95"/><circle cx="1211.8" cy="443.0" r="4.95"/><circle cx="1211.8" cy="446.2" r="4.95"/><circle cx="1211.8" cy="449.4" r="4.95"/><circle cx="1211.8" cy="452.5" r="4.95"/><circle cx="1211.8" cy="455.6" r="4.95"/><circle cx="1211.8" cy="458.6" r="4.95"/><circle cx="1211.8" cy="461.6" r="4.95"/><circle cx="1211.8" cy="464.5" r="4.95"/><circle cx="1211.8" cy="467.3" r="4.95"/><circle cx="1211.8" cy="470.1" r="4.95"/><circle cx="1211.8" cy="472.8" r="4.95"/><circle cx="1211.8" cy="475.5" r="4.95"/><circle cx="1211.8" cy="478.2" r="4.95"/><circle cx="1211.8" cy="480.8" r="4.95"/><circle cx="1211.8" cy="483.3" r="4.95"/><circle cx="1211.8" cy="485.8" r="4.95"/><circle cx="1211.8" cy="488.3" r="4.95"/><circle cx="1211.8" cy="490.7" r="4.95"/><circle cx="1211.8" cy="493.1" r="4.95"/><circle cx="1211.8" cy="495.4" r="4.95"/><circle cx="1211.8" cy="497.7" r="4.95"/><circle cx="1211.8" cy="500.0" r="4.95"/><circle cx="1211.8" cy="502.2" r="4.95"/><circle cx="1211.8" cy="504.4" r="4.95"/><circle cx="1211.8" cy="506.6" r="4.95"/><circle cx="1211.8" cy="508.7" r="4.95"/><circle cx="1211.8" cy="510.8" r="4.95"/><circle cx="1211.8" cy="512.8" r="4.95"/><circle cx="1211.8" cy="514.8" r="4.95"/><circle cx="1211.8" cy="516.8" r="4.95"/><circle cx="1211.8" cy="518.8" r="4.95"/><circle cx="1211.8" cy="520.7" r="4.95"/><circle cx="1211.8" cy="522.6" r="4.95"/><circle cx="1211.8" cy="524.5" r="4.95"/><circle cx="1211.8" cy="526.3" r="4.95"/><circle cx="1211.8" cy="528.1" r="4.95"/><circle cx="1211.8" cy="529.9" r="4.95"/><circle cx="1211.8" cy="531.7" r="4.95"/><circle cx="1211.8" cy="533.4" r="4.95"/><circle cx="1211.8" cy="535.1" r="4.95"/><circle cx="1211.8" cy="536.8" r="4.95"/><circle cx="1211.8" cy="538.5" r="4.95"/><circle cx="1211.8" cy="540.1" r="4.95"/><circle cx="1211.8" cy="541.8" r="4.95"/><circle cx="1211.8" cy="543.4" r="4.95"/><circle cx="1211.8" cy="544.9" r="4.95"/><circle cx="1211.8" cy="546.5" r="4.95"/><circle cx="1211.8" cy="548.0" r="4.95"/><circle cx="1211.8" cy="549.5" r="4.95"/><circle cx="1211.8" cy="551.0" r="4.95"/><circle cx="1211.8" cy="552.5" r="4.95"/><circle cx="1211.8" cy="553.9" r="4.95"/><circle cx="1211.8" cy="555.4" r="4.95"/><circle cx="1211.8" cy="556.8" r="4.95"/><circle cx="1211.8" cy="558.2" r="4.95"/><circle cx="1211.8" cy="559.5" r="4.95"/><circle cx="1211.8" cy="560.9" r="4.95"/><circle cx="1211.8" cy="562.2" r="4.95"/><circle cx="1211.8" cy="563.6" r="4.95"/><circle cx="1211.8" cy="564.9" r="4.95"/><circle cx="1211.8" cy="566.2" r="4.95"/><circle cx="1211.8" cy="567.4" r="4.95"/><circle cx="1211.8" cy="568.7" r="4.95"/><circle cx="1211.8" cy="569.9" r="4.95"/><circle cx="1211.8" cy="571.2" r="4.95"/><circle cx="1211.8" cy="572.4" r="4.95"/><circle cx="1211.8" cy="573.6" r="4.95"/><circle cx="1211.8" cy="574.8" r="4.95"/><circle cx="1211.8" cy="575.9" r="4.95"/><circle cx="1211.8" cy="577.1" r="4.95"/><circle cx="1211.8" cy="578.2" r="4.95"/><circle cx="1211.8" cy="579.4" r="4.95"/><circle cx="1211.8" cy="580.5" r="4.95"/><circle cx="1211.8" cy="581.6" r="4.95"/><circle cx="1211.8" cy="582.7" r="4.95"/><circle cx="1211.8" cy="583.8" r="4.95"/><circle cx="1211.8" cy="584.8" r="4.95"/><circle cx="1211.8" cy="585.9" r="4.95"/><circle cx="1211.8" cy="586.9" r="4.95"/><circle cx="1211.8" cy="588.0" r="4.95"/><circle cx="1211.8" cy="589.0" r="4.95"/><circle cx="1211.8" cy="590.0" r="4.95"/><circle cx="1211.8" cy="591.0" r="4.95"/><circle cx="1211.8" cy="592.0" r="4.95"/><circle cx="1211.8" cy="593.0" r="4.95"/><circle cx="1235.8" cy="590.1" r="4.95"/><circle cx="1235.8" cy="591.1" r="4.95"/><circle cx="1235.8" cy="592.1" r="4.95"/><circle cx="1235.8" cy="593.0" r="4.95"/><circle cx="1235.8" cy="594.0" r="4.95"/><circle cx="1235.8" cy="594.9" r="4.95"/><circle cx="1235.8" cy="595.8" r="4.95"/><circle cx="1235.8" cy="596.8" r="4.95"/><circle cx="1235.8" cy="597.7" r="4.95"/><circle cx="1235.8" cy="598.6" r="4.95"/><circle cx="1235.8" cy="599.4" r="4.95"/><circle cx="1235.8" cy="600.3" r="4.95"/><circle cx="1235.8" cy="601.2" r="4.95"/><circle cx="1235.8" cy="602.0" r="4.95"/><circle cx="1235.8" cy="602.9" r="4.95"/><circle cx="1235.8" cy="603.7" r="4.95"/><circle cx="1235.8" cy="604.6" r="4.95"/><circle cx="1235.8" cy="605.4" r="4.95"/><circle cx="1235.8" cy="606.2" r="4.95"/><circle cx="1235.8" cy="607.0" r="4.95"/><circle cx="1235.8" cy="607.8" r="4.95"/><circle cx="1235.8" cy="608.6" r="4.95"/><circle cx="1235.8" cy="609.4" r="4.95"/><circle cx="1235.8" cy="610.2" r="4.95"/><circle cx="1235.8" cy="611.0" r="4.95"/><circle cx="1235.8" cy="611.7" r="4.95"/><circle cx="1235.8" cy="612.5" r="4.95"/><circle cx="1235.8" cy="613.2" r="4.95"/><circle cx="1235.8" cy="614.0" r="4.95"/><circle cx="1235.8" cy="614.7" r="4.95"/><circle cx="1235.8" cy="615.4" r="4.95"/><circle cx="1235.8" cy="616.2" r="4.95"/><circle cx="1235.8" cy="616.9" r="4.95"/><circle cx="1235.8" cy="617.6" r="4.95"/><circle cx="1235.8" cy="618.3" r="4.95"/><circle cx="1235.8" cy="619.0" r="4.95"/><circle cx="1235.8" cy="619.7" r="4.95"/><circle cx="1235.8" cy="620.4" r="4.95"/><circle cx="1235.8" cy="621.0" r="4.95"/><circle cx="1235.8" cy="621.7" r="4.95"/><circle cx="1235.8" cy="622.4" r="4.95"/><circle cx="1235.8" cy="623.0" r="4.95"/><circle cx="1235.8" cy="623.7" r="4.95"/><circle cx="1235.8" cy="624.3" r="4.95"/><circle cx="1235.8" cy="625.0" r="4.95"/><circle cx="1259.8" cy="622.6" r="4.95"/></g>
<g stroke="#977761"><circle cx="83.7" cy="72.5" r="4.95"/><circle cx="113.9" cy="72.5" r="4.95"/><circle cx="144.0" cy="72.5" r="4.95"/><circle cx="174.2" cy="72.5" r="4.95"/><circle cx="204.3" cy="72.5" r="4.95"/><circle cx="234.5" cy="72.5" r="4.95"/><circle cx="264.6" cy="72.5" r="4.95"/><circle cx="294.8" cy="72.5" r="4.95"/><circle cx="325.0" cy="72.5" r="4.95"/><circle cx="355.1" cy="72.5" r="4.95"/><circle cx="385.3" cy="72.5" r="4.95"/><circle cx="415.4" cy="72.5" r="4.95"/><circle cx="445.6" cy="72.5" r="4.95"/><circle cx="475.7" cy="72.5" r="4.95"/><circle cx="475.7" cy="122.4" r="4.95"/><circle cx="505.9" cy="119.1" r="4.95"/><circle cx="536.0" cy="116.2" r="4.95"/><circle cx="536.0" cy="154.7" r="4.95"/><circle cx="536.0" cy="189.0" r="4.95"/><circle cx="566.2" cy="182.9" r="4.95"/><circle cx="596.4" cy="177.4" r="4.95"/><circle cx="596.4" cy="205.6" r="4.95"/><circle cx="626.5" cy="199.6" r="4.95"/><circle cx="656.7" cy="194.1" r="4.95"/><circle cx="686.8" cy="189.0" r="4.95"/><circle cx="717.0" cy="184.3" r="4.95"/><circle cx="717.0" cy="206.9" r="4.95"/><circle cx="747.1" cy="201.9" r="4.95"/><circle cx="777.3" cy="197.3" r="4.95"/><circle cx="777.3" cy="217.1" r="4.95"/><circle cx="807.5" cy="212.3" r="4.95"/><circle cx="837.6" cy="207.8" r="4.95"/><circle cx="867.8" cy="203.6" r="4.95"/><circle cx="867.8" cy="220.8" r="4.95"/><circle cx="897.9" cy="216.4" r="4.95"/><circle cx="897.9" cy="232.3" r="4.95"/><circle cx="897.9" cy="247.2" r="4.95"/><circle cx="897.9" cy="261.4" r="4.95"/><circle cx="897.9" cy="274.8" r="4.95"/><circle cx="897.9" cy="287.6" r="4.95"/><circle cx="928.1" cy="282.2" r="4.95"/><circle cx="958.2" cy="277.1" r="4.95"/><circle cx="958.2" cy="288.9" r="4.95"/><circle cx="988.4" cy="283.8" r="4.95"/><circle cx="1018.5" cy="279.0" r="4.95"/><circle cx="1018.5" cy="290.0" r="4.95"/><circle cx="1018.5" cy="300.4" r="4.95"/><circle cx="1018.5" cy="310.5" r="4.95"/><circle cx="1018.5" cy="320.1" r="4.95"/><circle cx="1048.7" cy="315.0" r="4.95"/><circle cx="1048.7" cy="324.1" r="4.95"/><circle cx="1048.7" cy="332.9" r="4.95"/><circle cx="1048.7" cy="341.3" r="4.95"/><circle cx="1048.7" cy="349.5" r="4.95"/><circle cx="1048.7" cy="357.3" r="4.95"/><circle cx="1048.7" cy="364.8" r="4.95"/><circle cx="1078.9" cy="359.6" r="4.95"/><circle cx="1078.9" cy="366.8" r="4.95"/><circle cx="1109.0" cy="361.7" r="4.95"/><circle cx="1139.2" cy="356.8" r="4.95"/><circle cx="1139.2" cy="363.8" r="4.95"/><circle cx="1139.2" cy="370.4" r="4.95"/><circle cx="1139.2" cy="376.9" r="4.95"/><circle cx="1139.2" cy="383.2" r="4.95"/><circle cx="1139.2" cy="389.2" r="4.95"/><circle cx="1139.2" cy="395.1" r="4.95"/><circle cx="1139.2" cy="400.8" r="4.95"/><circle cx="1139.2" cy="406.4" r="4.95"/><circle cx="1139.2" cy="411.7" r="4.95"/><circle cx="1139.2" cy="416.9" r="4.95"/><circle cx="1139.2" cy="422.0" r="4.95"/><circle cx="1169.3" cy="417.1" r="4.95"/><circle cx="1169.3" cy="422.0" r="4.95"/><circle cx="1169.3" cy="426.8" r="4.95"/><circle cx="1169.3" cy="431.4" r="4.95"/><circle cx="1169.3" cy="436.0" r="4.95"/><circle cx="1169.3" cy="440.4" r="4.95"/><circle cx="1169.3" cy="444.7" r="4.95"/><circle cx="1169.3" cy="448.9" r="4.95"/><circle cx="1169.3" cy="453.0" r="4.95"/><circle cx="1169.3" cy="456.9" r="4.95"/><circle cx="1169.3" cy="460.8" r="4.95"/><circle cx="1169.3" cy="464.6" r="4.95"/><circle cx="1169.3" cy="468.3" r="4.95"/><circle cx="1169.3" cy="471.9" r="4.95"/><circle cx="1169.3" cy="475.5" r="4.95"/><circle cx="1199.5" cy="470.8" r="4.95"/><circle cx="1199.5" cy="474.2" r="4.95"/><circle cx="1199.5" cy="477.6" r="4.95"/><circle cx="1199.5" cy="480.9" r="4.95"/><circle cx="1199.5" cy="484.1" r="4.95"/><circle cx="1199.5" cy="487.3" r="4.95"/><circle cx="1199.5" cy="490.4" r="4.95"/><circle cx="1199.5" cy="493.4" r="4.95"/><circle cx="1199.5" cy="496.4" r="4.95"/><circle cx="1199.5" cy="499.3" r="4.95"/><circle cx="1199.5" cy="502.1" r="4.95"/><circle cx="1199.5" cy="504.9" r="4.95"/><circle cx="1199.5" cy="507.6" r="4.95"/><circle cx="1199.5" cy="510.3" r="4.95"/><circle cx="1199.5" cy="512.9" r="4.95"/><circle cx="1199.5" cy="515.4" r="4.95"/><circle cx="1199.5" cy="517.9" r="4.95"/><circle cx="1199.5" cy="520.4" r="4.95"/><circle cx="1199.5" cy="522.8" r="4.95"/><circle cx="1199.5" cy="525.2" r="4.95"/><circle cx="1199.5" cy="527.5" r="4.95"/><circle cx="1199.5" cy="529.8" r="4.95"/><circle cx="1199.5" cy="532.0" r="4.95"/><circle cx="1199.5" cy="534.2" r="4.95"/><circle cx="1199.5" cy="536.4" r="4.95"/><circle cx="1199.5" cy="538.5" r="4.95"/><circle cx="1199.5" cy="540.6" r="4.95"/><circle cx="1199.5" cy="542.6" r="4.95"/><circle cx="1199.5" cy="544.6" r="4.95"/><circle cx="1199.5" cy="546.6" r="4.95"/><circle cx="1199.5" cy="548.5" r="4.95"/><circle cx="1199.5" cy="550.4" r="4.95"/><circle cx="1199.5" cy="552.3" r="4.95"/><circle cx="1199.5" cy="554.2" r="4.95"/><circle cx="1199.5" cy="556.0" r="4.95"/><circle cx="1199.5" cy="557.8" r="4.95"/><circle cx="1199.5" cy="559.5" r="4.95"/><circle cx="1199.5" cy="561.2" r="4.95"/><circle cx="1199.5" cy="562.9" r="4.95"/><circle cx="1199.5" cy="564.6" r="4.95"/><circle cx="1199.5" cy="566.2" r="4.95"/><circle cx="1199.5" cy="567.9" r="4.95"/><circle cx="1199.5" cy="569.4" r="4.95"/><circle cx="1199.5" cy="571.0" r="4.95"/><circle cx="1199.5" cy="572.6" r="4.95"/><circle cx="1199.5" cy="574.1" r="4.95"/><circle cx="1199.5" cy="575.6" r="4.95"/><circle cx="1199.5" cy="577.0" r="4.95"/><circle cx="1199.5" cy="578.5" r="4.95"/><circle cx="1199.5" cy="579.9" r="4.95"/><circle cx="1199.5" cy="581.3" r="4.95"/><circle cx="1199.5" cy="582.7" r="4.95"/><circle cx="1199.5" cy="584.1" r="4.95"/><circle cx="1199.5" cy="585.4" r="4.95"/><circle cx="1199.5" cy="586.8" r="4.95"/><circle cx="1199.5" cy="588.1" r="4.95"/><circle cx="1199.5" cy="589.4" r="4.95"/><circle cx="1199.5" cy="590.6" r="4.95"/><circle cx="1199.5" cy="591.9" r="4.95"/><circle cx="1199.5" cy="593.1" r="4.95"/><circle cx="1199.5" cy="594.4" r="4.95"/><circle cx="1199.5" cy="595.6" r="4.95"/><circle cx="1199.5" cy="596.8" r="4.95"/><circle cx="1199.5" cy="597.9" r="4.95"/><circle cx="1199.5" cy="599.1" r="4.95"/><circle cx="1199.5" cy="600.2" r="4.95"/><circle cx="1199.5" cy="601.3" r="4.95"/><circle cx="1199.5" cy="602.5" r="4.95"/><circle cx="1229.6" cy="599.0" r="4.95"/><circle cx="1229.6" cy="600.1" r="4.95"/><circle cx="1229.6" cy="601.2" r="4.95"/><circle cx="1229.6" cy="602.3" r="4.95"/><circle cx="1229.6" cy="603.4" r="4.95"/><circle cx="1229.6" cy="604.4" r="4.95"/><circle cx="1229.6" cy="605.5" r="4.95"/><circle cx="1229.6" cy="606.5" r="4.95"/><circle cx="1229.6" cy="607.5" r="4.95"/><circle cx="1229.6" cy="608.5" r="4.95"/><circle cx="1229.6" cy="609.5" r="4.95"/><circle cx="1229.6" cy="610.5" r="4.95"/><circle cx="1229.6" cy="611.5" r="4.95"/><circle cx="1229.6" cy="612.4" r="4.95"/><circle cx="1229.6" cy="613.4" r="4.95"/><circle cx="1229.6" cy="614.3" r="4.95"/><circle cx="1229.6" cy="615.3" r="4.95"/><circle cx="1229.6" cy="616.2" r="4.95"/><circle cx="1229.6" cy="617.1" r="4.95"/><circle cx="1229.6" cy="618.0" r="4.95"/><circle cx="1229.6" cy="618.8" r="4.95"/><circle cx="1229.6" cy="619.7" r="4.95"/><circle cx="1229.6" cy="620.6" r="4.95"/><circle cx="1229.6" cy="621.4" r="4.95"/><circle cx="1229.6" cy="622.3" r="4.95"/><circle cx="1229.6" cy="623.1" r="4.95"/><circle cx="1229.6" cy="623.9" r="4.95"/><circle cx="1229.6" cy="624.7" r="4.95"/><circle cx="1229.6" cy="625.6" r="4.95"/><circle cx="1229.6" cy="626.4" r="4.95"/><circle cx="1229.6" cy="627.1" r="4.95"/><circle cx="1259.8" cy="624.1" r="4.95"/></g>
<g stroke="#b8b0ad"><circle cx="83.7" cy="72.5" r="4.95"/><circle cx="106.8" cy="72.5" r="4.95"/><circle cx="129.8" cy="72.5" r="4.95"/><circle cx="152.9" cy="72.5" r="4.95"/><circle cx="175.9" cy="72.5" r="4.95"/><circle cx="199.0" cy="72.5" r="4.95"/><circle cx="222.1" cy="72.5" r="4.95"/><circle cx="245.1" cy="72.5" r="4.95"/><circle cx="268.2" cy="72.5" r="4.95"/><circle cx="291.2" cy="72.5" r="4.95"/><circle cx="314.3" cy="72.5" r="4.95"/><circle cx="337.4" cy="72.5" r="4.95"/><circle cx="360.4" cy="72.5" r="4.95"/><circle cx="383.5" cy="72.5" r="4.95"/><circle cx="406.6" cy="72.5" r="4.95"/><circle cx="429.6" cy="72.5" r="4.95"/><circle cx="452.7" cy="72.5" r="4.95"/><circle cx="475.7" cy="72.5" r="4.95"/><circle cx="498.8" cy="72.5" r="4.95"/><circle cx="521.9" cy="72.5" r="4.95"/><circle cx="544.9" cy="72.5" r="4.95"/><circle cx="544.9" cy="105.8" r="4.95"/><circle cx="568.0" cy="104.3" r="4.95"/><circle cx="591.0" cy="102.9" r="4.95"/><circle cx="614.1" cy="101.6" r="4.95"/><circle cx="637.2" cy="100.5" r="4.95"/><circle cx="660.2" cy="99.4" r="4.95"/><circle cx="683.3" cy="98.4" r="4.95"/><circle cx="706.3" cy="97.5" r="4.95"/><circle cx="729.4" cy="96.6" r="4.95"/><circle cx="752.5" cy="95.8" r="4.95"/><circle cx="775.5" cy="95.0" r="4.95"/><circle cx="798.6" cy="94.3" r="4.95"/><circle cx="821.6" cy="93.7" r="4.95"/><circle cx="844.7" cy="93.1" r="4.95"/><circle cx="867.8" cy="92.5" r="4.95"/><circle cx="890.8" cy="91.9" r="4.95"/><circle cx="890.8" cy="110.3" r="4.95"/><circle cx="913.9" cy="109.3" r="4.95"/><circle cx="913.9" cy="126.3" r="4.95"/><circle cx="913.9" cy="142.4" r="4.95"/><circle cx="936.9" cy="140.7" r="4.95"/><circle cx="960.0" cy="139.1" r="4.95"/><circle cx="960.0" cy="153.8" r="4.95"/><circle cx="983.1" cy="151.9" r="4.95"/><circle cx="983.1" cy="165.7" r="4.95"/><circle cx="1006.1" cy="163.7" r="4.95"/><circle cx="1029.2" cy="161.7" r="4.95"/><circle cx="1052.3" cy="159.9" r="4.95"/><circle cx="1052.3" cy="172.4" r="4.95"/><circle cx="1052.3" cy="184.3" r="4.95"/><circle cx="1052.3" cy="195.9" r="4.95"/><circle cx="1052.3" cy="206.9" r="4.95"/><circle cx="1052.3" cy="217.6" r="4.95"/><circle cx="1052.3" cy="227.8" r="4.95"/><circle cx="1052.3" cy="237.7" r="4.95"/><circle cx="1052.3" cy="247.2" r="4.95"/><circle cx="1052.3" cy="256.4" r="4.95"/><circle cx="1052.3" cy="265.3" r="4.95"/><circle cx="1052.3" cy="273.9" r="4.95"/><circle cx="1052.3" cy="282.2" r="4.95"/><circle cx="1052.3" cy="290.2" r="4.95"/><circle cx="1052.3" cy="298.0" r="4.95"/><circle cx="1075.3" cy="294.4" r="4.95"/><circle cx="1075.3" cy="301.9" r="4.95"/><circle cx="1098.4" cy="298.3" r="4.95"/><circle cx="1098.4" cy="305.5" r="4.95"/><circle cx="1098.4" cy="312.5" r="4.95"/><circle cx="1098.4" cy="319.2" r="4.95"/><circle cx="1098.4" cy="325.8" r="4.95"/><circle cx="1121.4" cy="322.1" r="4.95"/><circle cx="1121.4" cy="328.5" r="4.95"/><circle cx="1121.4" cy="334.6" r="4.95"/><circle cx="1121.4" cy="340.6" r="4.95"/><circle cx="1144.5" cy="337.0" r="4.95"/><circle cx="1144.5" cy="342.8" r="4.95"/><circle cx="1144.5" cy="348.4" r="4.95"/><circle cx="1144.5" cy="353.9" r="4.95"/><circle cx="1144.5" cy="359.3" r="4.95"/><circle cx="1144.5" cy="364.5" r="4.95"/><circle cx="1144.5" cy="369.6" r="4.95"/><circle cx="1144.5" cy="374.5" r="4.95"/><circle cx="1144.5" cy="379.4" r="4.95"/><circle cx="1144.5" cy="384.1" r="4.95"/><circle cx="1144.5" cy="388.7" r="4.95"/><circle cx="1144.5" cy="393.2" r="4.95"/><circle cx="1144.5" cy="397.6" r="4.95"/><circle cx="1144.5" cy="401.9" r="4.95"/><circle cx="1144.5" cy="406.1" r="4.95"/><circle cx="1144.5" cy="410.2" r="4.95"/><circle cx="1144.5" cy="414.2" r="4.95"/><circle cx="1144.5" cy="418.2" r="4.95"/><circle cx="1144.5" cy="422.0" r="4.95"/><circle cx="1144.5" cy="425.8" r="4.95"/><circle cx="1144.5" cy="429.4" r="4.95"/><circle cx="1144.5" cy="433.0" r="4.95"/><circle cx="1167.6" cy="429.3" r="4.95"/><circle cx="1167.6" cy="432.8" r="4.95"/><circle cx="1190.6" cy="429.1" r="4.95"/><circle cx="1190.6" cy="432.6" r="4.95"/><circle cx="1190.6" cy="436.0" r="4.95"/><circle cx="1190.6" cy="439.3" r="4.95"/><circle cx="1190.6" cy="442.6" r="4.95"/><circle cx="1190.6" cy="445.8" r="4.95"/><circle cx="1190.6" cy="448.9" r="4.95"/><circle cx="1213.7" cy="445.3" r="4.95"/><circle cx="1213.7" cy="448.4" r="4.95"/><circle cx="1213.7" cy="451.4" r="4.95"/><circle cx="1213.7" cy="454.4" r="4.95"/><circle cx="1213.7" cy="457.3" r="4.95"/><circle cx="1213.7" cy="460.1" r="4.95"/><circle cx="1213.7" cy="462.9" r="4.95"/><circle cx="1213.7" cy="465.7" r="4.95"/><circle cx="1213.7" cy="468.4" r="4.95"/><circle cx="1213.7" cy="471.1" r="4.95"/><circle cx="1213.7" cy="473.7" r="4.95"/><circle cx="1213.7" cy="476.2" r="4.95"/><circle cx="1213.7" cy="478.8" r="4.95"/><circle cx="1213.7" cy="481.2" r="4.95"/><circle cx="1213.7" cy="483.7" r="4.95"/><circle cx="1213.7" cy="486.1" r="4.95"/><circle cx="1213.7" cy="488.4" r="4.95"/><circle cx="1213.7" cy="490.8" r="4.95"/><circle cx="1213.7" cy="493.0" r="4.95"/><circle cx="1213.7" cy="495.3" r="4.95"/><circle cx="1213.7" cy="497.5" r="4.95"/><circle cx="1213.7" cy="499.7" r="4.95"/><circle cx="1213.7" cy="501.8" r="4.95"/><circle cx="1213.7" cy="503.9" r="4.95"/><circle cx="1213.7" cy="506.0" r="4.95"/><circle cx="1236.7" cy="502.7" r="4.95"/><circle cx="1236.7" cy="504.7" r="4.95"/><circle cx="1236.7" cy="506.7" r="4.95"/><circle cx="1236.7" cy="508.7" r="4.95"/><circle cx="1236.7" cy="510.7" r="4.95"/><circle cx="1236.7" cy="512.6" r="4.95"/><circle cx="1236.7" cy="514.5" r="4.95"/><circle cx="1236.7" cy="516.4" r="4.95"/><circle cx="1236.7" cy="518.2" r="4.95"/><circle cx="1236.7" cy="520.1" r="4.95"/><circle cx="1236.7" cy="521.9" r="4.95"/><circle cx="1236.7" cy="523.6" r="4.95"/><circle cx="1236.7" cy="525.4" r="4.95"/><circle cx="1236.7" cy="527.1" r="4.95"/><circle cx="1236.7" cy="528.8" r="4.95"/><circle cx="1236.7" cy="530.5" r="4.95"/><circle cx="1236.7" cy="532.1" r="4.95"/><circle cx="1236.7" cy="533.7" r="4.95"/><circle cx="1236.7" cy="535.4" r="4.95"/><circle cx="1236.7" cy="536.9" r="4.95"/><circle cx="1236.7" cy="538.5" r="4.95"/><circle cx="1236.7" cy="540.0" r="4.95"/><circle cx="1236.7" cy="541.6" r="4.95"/><circle cx="1236.7" cy="543.1" r="4.95"/><circle cx="1236.7" cy="544.6" r="4.95"/><circle cx="1236.7" cy="546.0" r="4.95"/><circle cx="1236.7" cy="547.5" r="4.95"/><circle cx="1236.7" cy="548.9" r="4.95"/><circle cx="1236.7" cy="550.3" r="4.95"/><circle cx="1236.7" cy="551.7" r="4.95"/><circle cx="1236.7" cy="553.1" r="4.95"/><circle cx="1236.7" cy="554.4" r="4.95"/><circle cx="1236.7" cy="555.8" r="4.95"/><circle cx="1236.7" cy="557.1" r="4.95"/><circle cx="1236.7" cy="558.4" r="4.95"/><circle cx="1236.7" cy="559.7" r="4.95"/><circle cx="1236.7" cy="561.0" r="4.95"/><circle cx="1236.7" cy="562.2" r="4.95"/><circle cx="1236.7" cy="563.5" r="4.95"/><circle cx="1236.7" cy="564.7" r="4.95"/><circle cx="1236.7" cy="565.9" r="4.95"/><circle cx="1236.7" cy="567.1" r="4.95"/><circle cx="1236.7" cy="568.3" r="4.95"/><circle cx="1236.7" cy="569.5" r="4.95"/><circle cx="1236.7" cy="570.6" r="4.95"/><circle cx="1236.7" cy="571.8" r="4.95"/><circle cx="1236.7" cy="572.9" r="4.95"/><circle cx="1236.7" cy="574.0" r="4.95"/><circle cx="1236.7" cy="575.2" r="4.95"/><circle cx="1236.7" cy="576.2" r="4.95"/><circle cx="1236.7" cy="577.3" r="4.95"/><circle cx="1236.7" cy="578.4" r="4.95"/><circle cx="1236.7" cy="579.5" r="4.95"/><circle cx="1236.7" cy="580.5" r="4.95"/><circle cx="1236.7" cy="581.6" r="4.95"/><circle cx="1236.7" cy="582.6" r="4.95"/><circle cx="1236.7" cy="583.6" r="4.95"/><circle cx="1236.7" cy="584.6" r="4.95"/><circle cx="1236.7" cy="585.6" r="4.95"/><circle cx="1236.7" cy="586.6" r="4.95"/><circle cx="1236.7" cy="587.6" r="4.95"/><circle cx="1236.7" cy="588.5" r="4.95"/><circle cx="1236.7" cy="589.5" r="4.95"/><circle cx="1236.7" cy="590.4" r="4.95"/><circle cx="1236.7" cy="591.3" r="4.95"/><circle cx="1236.7" cy="592.3" r="4.95"/><circle cx="1236.7" cy="593.2" r="4.95"/><circle cx="1236.7" cy="594.1" r="4.95"/><circle cx="1236.7" cy="595.0" r="4.95"/><circle cx="1236.7" cy="595.9" r="4.95"/><circle cx="1236.7" cy="596.8" r="4.95"/><circle cx="1236.7" cy="597.6" r="4.95"/><circle cx="1236.7" cy="598.5" r="4.95"/><circle cx="1236.7" cy="599.3" r="4.95"/><circle cx="1236.7" cy="600.2" r="4.95"/><circle cx="1236.7" cy="601.0" r="4.95"/><circle cx="1236.7" cy="601.8" r="4.95"/><circle cx="1236.7" cy="602.7" r="4.95"/><circle cx="1236.7" cy="603.5" r="4.95"/><circle cx="1236.7" cy="604.3" r="4.95"/><circle cx="1236.7" cy="605.1" r="4.95"/><circle cx="1236.7" cy="605.9" r="4.95"/><circle cx="1236.7" cy="606.6" r="4.95"/><circle cx="1259.8" cy="604.1" r="4.95"/></g>
</g>
<text x="1292.5" y="89.1" font-size="20" font-weight="bold">runSets_historyTable_c</text>
<g font-size="18.2">
<circle cx="1302.9" cy="112.1" r="8.9" fill="none" stroke="#5677a4" stroke-width="2.7" opacity="0.7"/>
<text x="1321.3" y="118.3">Amphibia</text>
<circle cx="1302.9" cy="140.9" r="8.9" fill="none" stroke="#e68b39" stroke-width="2.7" opacity="0.7"/>
<text x="1321.3" y="147.1">Animalia</text>
<circle cx="1302.9" cy="169.7" r="8.9" fill="none" stroke="#d4605b" stroke-width="2.7" opacity="0.7"/>
<text x="1321.3" y="175.9">Arachnida</text>
<circle cx="1302.9" cy="198.6" r="8.9" fill="none" stroke="#82b5b1" stroke-width="2.7" opacity="0.7"/>
<text x="1321.3" y="204.8">Aves</text>
<circle cx="1302.9" cy="227.4" r="8.9" fill="none" stroke="#68a055" stroke-width="2.7" opacity="0.7"/>
<text x="1321.3" y="233.6">Fungi</text>
<circle cx="1302.9" cy="256.2" r="8.9" fill="none" stroke="#e8cb58" stroke-width="2.7" opacity="0.7"/>
<text x="1321.3" y="262.4">Insecta</text>
<circle cx="1302.9" cy="285.0" r="8.9" fill="none" stroke="#aa7ba0" stroke-width="2.7" opacity="0.7"/>
<text x="1321.3" y="291.2">Mammalia</text>
<circle cx="1302.9" cy="313.8" r="8.9" fill="none" stroke="#f1a2a7" stroke-width="2.7" opacity="0.7"/>
<text x="1321.3" y="320.0">Mollusca</text>
<circle cx="1302.9" cy="342.7" r="8.9" fill="none" stroke="#977761" stroke-width="2.7" opacity="0.7"/>
<text x="1321.3" y="348.9">Plantae</text>
<circle cx="1302.9" cy="371.5" r="8.9" fill="none" stroke="#b8b0ad" stroke-width="2.7" opacity="0.7"/>
<text x="1321.3" y="377.7">Reptilia</text>
</g>
</g></svg>
<div class="code">
<div class="vl" style="left:30.3px;top:46px;height:276px"></div>
<div class="vl" style="left:59.8px;top:92px;height:138px"></div>
<span style="left:29.0px;top:7px"><b class="kw">query</b> {</span>
<div class="bx" style="left:60.0px;top:52px;width:144.0px;height:36px"><i style="left:7.2px">runSets</i><em style="left:119.5px"><svg class="chev" viewBox="0 0 16 10" width="16" height="10"><path d="M2 2.2 L8 8 L14 2.2" fill="none" stroke="#3a3a3a" stroke-width="1.7" stroke-linecap="round" stroke-linejoin="round"/></svg></em></div>
<span style="left:204.6px;top:52px"> (<b class="arg">runSets</b>: &quot;</span>
<div class="bx" style="left:373.4px;top:52px;width:153.0px;height:36px"><i class="str" style="left:4px">${runSets}</i></div>
<span style="left:523.9px;top:52px">&quot;) {</span>
<div class="bx" style="left:92.0px;top:98px;width:98.0px;height:36px"><i style="left:5.8px">name</i><em style="left:73.0px"><svg class="chev" viewBox="0 0 16 10" width="16" height="10"><path d="M2 2.2 L8 8 L14 2.2" fill="none" stroke="#3a3a3a" stroke-width="1.7" stroke-linecap="round" stroke-linejoin="round"/></svg></em></div>
<div class="bx" style="left:92.0px;top:144px;width:216.0px;height:36px"><i style="left:5.8px">historyTable</i><em style="left:191.5px"><svg class="chev" viewBox="0 0 16 10" width="16" height="10"><path d="M2 2.2 L8 8 L14 2.2" fill="none" stroke="#3a3a3a" stroke-width="1.7" stroke-linecap="round" stroke-linejoin="round"/></svg></em></div>
<span style="left:308.0px;top:144px"> (<b class="arg">tableKey</b>: &quot;</span>
<div class="bx" style="left:493.2px;top:144px;width:123.2px;height:36px"><i class="str" style="left:2px">pr_curve</i></div>
<span style="left:613.7px;top:144px">&quot;, <b class="arg">extraKeys</b>: [</span>
<div class="bx" style="left:832.0px;top:144px;width:36.0px;height:36px"><i style="left:0;width:36px;text-align:center">+</i></div>
<span style="left:869.0px;top:144px">]</span>
<div class="pill" style="left:904px;top:150px"><u></u><u></u><u></u></div>
<span style="left:945.0px;top:144px">)</span>
<div class="bx" style="left:92.0px;top:190px;width:36.0px;height:36px"><i style="left:0;width:36px;text-align:center">+</i></div>
<span style="left:60.0px;top:236px">}</span>
<div class="bx" style="left:60.0px;top:282px;width:36.0px;height:36px"><i style="left:0;width:36px;text-align:center">+</i></div>
<span style="left:30.0px;top:328px">}</span>
</div>
<div class="lbl" style="left:1620.5px;top:431.5px;letter-spacing:-0.4px">Vega fields</div>
<div class="lbl" style="left:1621px;top:499.3px;letter-spacing:-0.75px">x-axis</div>
<div class="under" style="top:704px"></div>
<div class="under" style="top:859px"></div>
<div class="dd"><div class="txt">runSets_historyTable_r</div><svg class="ddchev" viewBox="0 0 12 8" width="12" height="8"><path d="M1.5 1.8 L6 6.2 L10.5 1.8" fill="none" stroke="#5a6064" stroke-width="1.4" stroke-linecap="round" stroke-linejoin="round"/></svg></div>
<div class="menu">
<div class="it hov" style="top:51.6px;height:75px"><span style="top:20.3px">runSets_historyTable</span></div>
<div class="it" style="top:126.6px;height:77px"><span style="top:23.3px">runSets_historyTable_c</span></div>
<div class="it sep" style="top:203.5px;height:78px"><span style="top:20.5px">runSets_historyTable_p</span></div>
<div class="it sel" style="top:281.8px;height:80px"><span style="top:21.2px">runSets_historyTable_r</span></div>
</div>

</div>
</body></html>
